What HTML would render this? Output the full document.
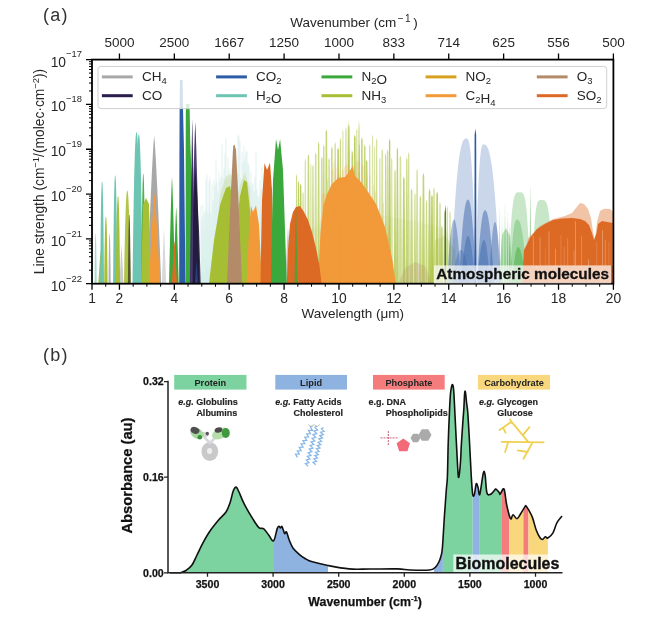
<!DOCTYPE html>
<html><head><meta charset="utf-8"><style>html,body{margin:0;padding:0;background:#fff;width:655px;height:620px;overflow:hidden;position:relative}</style></head>
<body>
<svg width="655" height="620" viewBox="0 0 655 620" style="position:absolute;left:0;top:0;filter:blur(0.4px)">
<rect width="655" height="620" fill="#ffffff"/>
<defs><clipPath id="ca"><rect x="92.0" y="59.6" width="521.4" height="224.1"/></clipPath></defs>
<g clip-path="url(#ca)">
<polygon points="200.50,283.70 200.70,206.28 201.00,203.28 201.30,206.28 201.50,283.70" fill="#6cc4b2" fill-opacity="0.3"/>
<polygon points="201.50,283.70 201.70,218.21 202.00,215.21 202.30,218.21 202.50,283.70" fill="#6cc4b2" fill-opacity="0.3"/>
<polygon points="202.50,283.70 202.70,206.21 203.00,203.21 203.30,206.21 203.50,283.70" fill="#6cc4b2" fill-opacity="0.3"/>
<polygon points="203.50,283.70 203.70,214.71 204.00,211.71 204.30,214.71 204.50,283.70" fill="#6cc4b2" fill-opacity="0.3"/>
<polygon points="204.50,283.70 204.70,212.70 205.00,209.70 205.30,212.70 205.50,283.70" fill="#6cc4b2" fill-opacity="0.3"/>
<polygon points="205.50,283.70 205.70,181.68 206.00,178.68 206.30,181.68 206.50,283.70" fill="#6cc4b2" fill-opacity="0.3"/>
<polygon points="206.50,283.70 206.70,176.15 207.00,173.15 207.30,176.15 207.50,283.70" fill="#6cc4b2" fill-opacity="0.3"/>
<polygon points="207.50,283.70 207.70,214.54 208.00,211.54 208.30,214.54 208.50,283.70" fill="#6cc4b2" fill-opacity="0.3"/>
<polygon points="208.50,283.70 208.70,182.90 209.00,179.90 209.30,182.90 209.50,283.70" fill="#6cc4b2" fill-opacity="0.3"/>
<polygon points="209.50,283.70 209.70,179.01 210.00,176.01 210.30,179.01 210.50,283.70" fill="#6cc4b2" fill-opacity="0.3"/>
<polygon points="210.50,283.70 210.70,214.53 211.00,211.53 211.30,214.53 211.50,283.70" fill="#6cc4b2" fill-opacity="0.3"/>
<polygon points="211.50,283.70 211.70,185.81 212.00,182.81 212.30,185.81 212.50,283.70" fill="#6cc4b2" fill-opacity="0.3"/>
<polygon points="212.50,283.70 212.70,201.76 213.00,198.76 213.30,201.76 213.50,283.70" fill="#6cc4b2" fill-opacity="0.3"/>
<polygon points="213.50,283.70 213.70,181.48 214.00,178.48 214.30,181.48 214.50,283.70" fill="#6cc4b2" fill-opacity="0.3"/>
<polygon points="214.50,283.70 214.70,187.44 215.00,184.44 215.30,187.44 215.50,283.70" fill="#6cc4b2" fill-opacity="0.3"/>
<polygon points="215.50,283.70 215.70,160.94 216.00,157.94 216.30,160.94 216.50,283.70" fill="#6cc4b2" fill-opacity="0.3"/>
<polygon points="216.50,283.70 216.70,183.16 217.00,180.16 217.30,183.16 217.50,283.70" fill="#6cc4b2" fill-opacity="0.3"/>
<polygon points="217.50,283.70 217.70,192.92 218.00,189.92 218.30,192.92 218.50,283.70" fill="#6cc4b2" fill-opacity="0.3"/>
<polygon points="218.50,283.70 218.70,173.87 219.00,170.87 219.30,173.87 219.50,283.70" fill="#6cc4b2" fill-opacity="0.3"/>
<polygon points="219.50,283.70 219.70,183.06 220.00,180.06 220.30,183.06 220.50,283.70" fill="#6cc4b2" fill-opacity="0.3"/>
<polygon points="220.50,283.70 220.70,177.95 221.00,174.95 221.30,177.95 221.50,283.70" fill="#6cc4b2" fill-opacity="0.3"/>
<polygon points="221.50,283.70 221.70,146.05 222.00,143.05 222.30,146.05 222.50,283.70" fill="#6cc4b2" fill-opacity="0.3"/>
<polygon points="222.50,283.70 222.70,179.33 223.00,176.33 223.30,179.33 223.50,283.70" fill="#6cc4b2" fill-opacity="0.3"/>
<polygon points="223.50,283.70 223.70,169.63 224.00,166.63 224.30,169.63 224.50,283.70" fill="#6cc4b2" fill-opacity="0.3"/>
<polygon points="224.50,283.70 224.70,153.89 225.00,150.89 225.30,153.89 225.50,283.70" fill="#6cc4b2" fill-opacity="0.3"/>
<polygon points="225.50,283.70 225.70,139.22 226.00,136.22 226.30,139.22 226.50,283.70" fill="#6cc4b2" fill-opacity="0.3"/>
<polygon points="226.50,283.70 226.70,179.88 227.00,176.88 227.30,179.88 227.50,283.70" fill="#6cc4b2" fill-opacity="0.3"/>
<polygon points="227.50,283.70 227.70,159.27 228.00,156.27 228.30,159.27 228.50,283.70" fill="#6cc4b2" fill-opacity="0.3"/>
<polygon points="228.50,283.70 228.70,170.69 229.00,167.69 229.30,170.69 229.50,283.70" fill="#6cc4b2" fill-opacity="0.3"/>
<polygon points="229.50,283.70 229.70,177.90 230.00,174.90 230.30,177.90 230.50,283.70" fill="#6cc4b2" fill-opacity="0.3"/>
<polygon points="230.50,283.70 230.70,168.97 231.00,165.97 231.30,168.97 231.50,283.70" fill="#6cc4b2" fill-opacity="0.3"/>
<polygon points="231.50,283.70 231.70,178.72 232.00,175.72 232.30,178.72 232.50,283.70" fill="#6cc4b2" fill-opacity="0.3"/>
<polygon points="232.50,283.70 232.70,151.91 233.00,148.91 233.30,151.91 233.50,283.70" fill="#6cc4b2" fill-opacity="0.3"/>
<polygon points="233.50,283.70 233.70,171.79 234.00,168.79 234.30,171.79 234.50,283.70" fill="#6cc4b2" fill-opacity="0.3"/>
<polygon points="234.50,283.70 234.70,153.65 235.00,150.65 235.30,153.65 235.50,283.70" fill="#6cc4b2" fill-opacity="0.3"/>
<polygon points="235.50,283.70 235.70,177.96 236.00,174.96 236.30,177.96 236.50,283.70" fill="#6cc4b2" fill-opacity="0.3"/>
<polygon points="236.50,283.70 236.70,174.99 237.00,171.99 237.30,174.99 237.50,283.70" fill="#6cc4b2" fill-opacity="0.3"/>
<polygon points="237.50,283.70 237.70,135.87 238.00,132.87 238.30,135.87 238.50,283.70" fill="#6cc4b2" fill-opacity="0.3"/>
<polygon points="238.50,283.70 238.70,137.84 239.00,134.84 239.30,137.84 239.50,283.70" fill="#6cc4b2" fill-opacity="0.3"/>
<polygon points="239.50,283.70 239.70,142.03 240.00,139.03 240.30,142.03 240.50,283.70" fill="#6cc4b2" fill-opacity="0.3"/>
<polygon points="240.50,283.70 240.70,179.69 241.00,176.69 241.30,179.69 241.50,283.70" fill="#6cc4b2" fill-opacity="0.3"/>
<polygon points="241.50,283.70 241.70,153.55 242.00,150.55 242.30,153.55 242.50,283.70" fill="#6cc4b2" fill-opacity="0.3"/>
<polygon points="242.50,283.70 242.70,163.49 243.00,160.49 243.30,163.49 243.50,283.70" fill="#6cc4b2" fill-opacity="0.3"/>
<polygon points="243.50,283.70 243.70,147.72 244.00,144.72 244.30,147.72 244.50,283.70" fill="#6cc4b2" fill-opacity="0.3"/>
<polygon points="244.50,283.70 244.70,158.63 245.00,155.63 245.30,158.63 245.50,283.70" fill="#6cc4b2" fill-opacity="0.3"/>
<polygon points="245.50,283.70 245.70,153.26 246.00,150.26 246.30,153.26 246.50,283.70" fill="#6cc4b2" fill-opacity="0.3"/>
<polygon points="246.50,283.70 246.70,152.30 247.00,149.30 247.30,152.30 247.50,283.70" fill="#6cc4b2" fill-opacity="0.3"/>
<polygon points="247.50,283.70 247.70,164.88 248.00,161.88 248.30,164.88 248.50,283.70" fill="#6cc4b2" fill-opacity="0.3"/>
<polygon points="248.50,283.70 248.70,165.81 249.00,162.81 249.30,165.81 249.50,283.70" fill="#6cc4b2" fill-opacity="0.3"/>
<polygon points="249.50,283.70 249.70,182.88 250.00,179.88 250.30,182.88 250.50,283.70" fill="#6cc4b2" fill-opacity="0.3"/>
<polygon points="250.50,283.70 250.70,172.92 251.00,169.92 251.30,172.92 251.50,283.70" fill="#6cc4b2" fill-opacity="0.3"/>
<polygon points="251.50,283.70 251.70,186.52 252.00,183.52 252.30,186.52 252.50,283.70" fill="#6cc4b2" fill-opacity="0.3"/>
<polygon points="252.50,283.70 252.70,184.24 253.00,181.24 253.30,184.24 253.50,283.70" fill="#6cc4b2" fill-opacity="0.3"/>
<polygon points="253.50,283.70 253.70,192.40 254.00,189.40 254.30,192.40 254.50,283.70" fill="#6cc4b2" fill-opacity="0.3"/>
<polygon points="254.50,283.70 254.70,177.94 255.00,174.94 255.30,177.94 255.50,283.70" fill="#6cc4b2" fill-opacity="0.3"/>
<polygon points="255.50,283.70 255.70,154.15 256.00,151.15 256.30,154.15 256.50,283.70" fill="#6cc4b2" fill-opacity="0.3"/>
<polygon points="256.50,283.70 256.70,190.74 257.00,187.74 257.30,190.74 257.50,283.70" fill="#6cc4b2" fill-opacity="0.3"/>
<polygon points="257.50,283.70 257.70,197.75 258.00,194.75 258.30,197.75 258.50,283.70" fill="#6cc4b2" fill-opacity="0.3"/>
<polygon points="258.50,283.70 258.70,196.65 259.00,193.65 259.30,196.65 259.50,283.70" fill="#6cc4b2" fill-opacity="0.3"/>
<polygon points="259.50,283.70 259.70,181.86 260.00,178.86 260.30,181.86 260.50,283.70" fill="#6cc4b2" fill-opacity="0.3"/>
<polygon points="260.50,283.70 260.70,191.18 261.00,188.18 261.30,191.18 261.50,283.70" fill="#6cc4b2" fill-opacity="0.3"/>
<polygon points="261.50,283.70 261.70,168.22 262.00,165.22 262.30,168.22 262.50,283.70" fill="#6cc4b2" fill-opacity="0.3"/>
<polygon points="262.50,283.70 262.70,201.52 263.00,198.52 263.30,201.52 263.50,283.70" fill="#6cc4b2" fill-opacity="0.3"/>
<polygon points="263.50,283.70 263.70,190.97 264.00,187.97 264.30,190.97 264.50,283.70" fill="#6cc4b2" fill-opacity="0.3"/>
<polygon points="264.50,283.70 264.70,179.00 265.00,176.00 265.30,179.00 265.50,283.70" fill="#6cc4b2" fill-opacity="0.3"/>
<polygon points="265.50,283.70 265.70,170.47 266.00,167.47 266.30,170.47 266.50,283.70" fill="#6cc4b2" fill-opacity="0.3"/>
<polygon points="266.50,283.70 266.70,212.63 267.00,209.63 267.30,212.63 267.50,283.70" fill="#6cc4b2" fill-opacity="0.3"/>
<polygon points="267.50,283.70 267.70,222.16 268.00,219.16 268.30,222.16 268.50,283.70" fill="#6cc4b2" fill-opacity="0.3"/>
<polygon points="268.50,283.70 268.70,179.92 269.00,176.92 269.30,179.92 269.50,283.70" fill="#6cc4b2" fill-opacity="0.3"/>
<polygon points="269.50,283.70 269.70,218.44 270.00,215.44 270.30,218.44 270.50,283.70" fill="#6cc4b2" fill-opacity="0.3"/>
<polygon points="290.61,283.70 291.30,229.33 292.00,226.33 292.70,229.33 293.39,283.70" fill="#a6bf34" fill-opacity="0.46033966956980077"/>
<polygon points="292.88,283.70 293.40,218.75 293.92,215.75 294.43,218.75 294.95,283.70" fill="#a6bf34" fill-opacity="0.5462755667650343"/>
<polygon points="295.49,283.70 296.01,176.75 296.53,173.75 297.05,176.75 297.57,283.70" fill="#a6bf34" fill-opacity="0.5734582734649544"/>
<polygon points="297.40,283.70 297.94,183.18 298.47,180.18 299.01,183.18 299.55,283.70" fill="#a6bf34" fill-opacity="0.7307408498688153"/>
<polygon points="299.28,283.70 299.96,186.36 300.63,183.36 301.30,186.36 301.98,283.70" fill="#a6bf34" fill-opacity="0.7790835769828023"/>
<polygon points="301.55,283.70 302.31,194.14 303.06,191.14 303.82,194.14 304.58,283.70" fill="#a6bf34" fill-opacity="0.41863307224710256"/>
<polygon points="304.14,283.70 304.74,160.91 305.33,157.91 305.92,160.91 306.51,283.70" fill="#a6bf34" fill-opacity="0.44711689523134734"/>
<polygon points="307.05,283.70 307.74,156.67 308.43,153.67 309.13,156.67 309.82,283.70" fill="#a6bf34" fill-opacity="0.6326400654649865"/>
<polygon points="309.79,283.70 310.31,165.93 310.83,162.93 311.35,165.93 311.87,283.70" fill="#a6bf34" fill-opacity="0.4251155899893293"/>
<polygon points="311.77,283.70 312.37,167.37 312.96,164.37 313.55,167.37 314.15,283.70" fill="#a6bf34" fill-opacity="0.5710369222677611"/>
<polygon points="314.22,283.70 314.96,155.32 315.70,152.32 316.43,155.32 317.17,283.70" fill="#a6bf34" fill-opacity="0.519906798745473"/>
<polygon points="317.30,283.70 317.96,144.17 318.61,141.17 319.27,144.17 319.93,283.70" fill="#a6bf34" fill-opacity="0.6297694841034684"/>
<polygon points="320.23,283.70 321.02,159.24 321.81,156.24 322.61,159.24 323.40,283.70" fill="#a6bf34" fill-opacity="0.5151751059560746"/>
<polygon points="322.71,283.70 323.26,147.15 323.80,144.15 324.35,147.15 324.89,283.70" fill="#a6bf34" fill-opacity="0.7028563718260998"/>
<polygon points="324.93,283.70 325.66,132.34 326.39,129.34 327.12,132.34 327.84,283.70" fill="#a6bf34" fill-opacity="0.6672863426137581"/>
<polygon points="327.69,283.70 328.39,160.37 329.10,157.37 329.81,160.37 330.52,283.70" fill="#a6bf34" fill-opacity="0.5254990051392388"/>
<polygon points="330.35,283.70 331.10,149.33 331.85,146.33 332.61,149.33 333.36,283.70" fill="#a6bf34" fill-opacity="0.5824821325205652"/>
<polygon points="334.13,283.70 334.65,144.80 335.17,141.80 335.68,144.80 336.20,283.70" fill="#a6bf34" fill-opacity="0.6656608821898697"/>
<polygon points="336.59,283.70 337.34,150.13 338.09,147.13 338.83,150.13 339.58,283.70" fill="#a6bf34" fill-opacity="0.7972383757866537"/>
<polygon points="339.33,283.70 339.84,140.42 340.34,137.42 340.85,140.42 341.36,283.70" fill="#a6bf34" fill-opacity="0.6674610863536753"/>
<polygon points="341.85,283.70 342.36,132.16 342.88,129.16 343.40,132.16 343.92,283.70" fill="#a6bf34" fill-opacity="0.4468383177926928"/>
<polygon points="344.68,283.70 345.29,130.05 345.91,127.05 346.53,130.05 347.15,283.70" fill="#a6bf34" fill-opacity="0.49904593347876575"/>
<polygon points="347.78,283.70 348.44,127.82 349.11,124.82 349.77,127.82 350.43,283.70" fill="#a6bf34" fill-opacity="0.5796749603797324"/>
<polygon points="351.15,283.70 351.74,153.67 352.32,150.67 352.90,153.67 353.49,283.70" fill="#a6bf34" fill-opacity="0.7455937878794061"/>
<polygon points="353.21,283.70 354.00,137.56 354.78,134.56 355.57,137.56 356.36,283.70" fill="#a6bf34" fill-opacity="0.7536771308792869"/>
<polygon points="355.68,283.70 356.25,131.17 356.82,128.17 357.39,131.17 357.96,283.70" fill="#a6bf34" fill-opacity="0.4927827467278143"/>
<polygon points="358.40,283.70 358.90,145.92 359.40,142.92 359.90,145.92 360.40,283.70" fill="#a6bf34" fill-opacity="0.5050986477194153"/>
<polygon points="360.30,283.70 361.09,140.08 361.87,137.08 362.66,140.08 363.44,283.70" fill="#a6bf34" fill-opacity="0.6265364894825568"/>
<polygon points="363.37,283.70 364.07,147.37 364.78,144.37 365.48,147.37 366.18,283.70" fill="#a6bf34" fill-opacity="0.6470370997636511"/>
<polygon points="365.14,283.70 365.90,162.23 366.66,159.23 367.42,162.23 368.19,283.70" fill="#a6bf34" fill-opacity="0.7119877962824291"/>
<polygon points="368.68,283.70 369.21,146.79 369.74,143.79 370.27,146.79 370.80,283.70" fill="#a6bf34" fill-opacity="0.5595915329281093"/>
<polygon points="371.43,283.70 371.99,137.34 372.55,134.34 373.12,137.34 373.68,283.70" fill="#a6bf34" fill-opacity="0.42693904633720997"/>
<polygon points="373.61,283.70 374.11,148.61 374.61,145.61 375.11,148.61 375.61,283.70" fill="#a6bf34" fill-opacity="0.4210302415561068"/>
<polygon points="375.64,283.70 376.15,140.97 376.66,137.97 377.16,140.97 377.67,283.70" fill="#a6bf34" fill-opacity="0.5454439688138284"/>
<polygon points="378.70,283.70 379.28,159.71 379.85,156.71 380.43,159.71 381.01,283.70" fill="#a6bf34" fill-opacity="0.4594201941323566"/>
<polygon points="380.70,283.70 381.46,151.55 382.21,148.55 382.96,151.55 383.72,283.70" fill="#a6bf34" fill-opacity="0.44913689230487797"/>
<polygon points="384.55,283.70 385.07,155.96 385.60,152.96 386.12,155.96 386.65,283.70" fill="#a6bf34" fill-opacity="0.5935338625665079"/>
<polygon points="386.07,283.70 386.81,152.13 387.56,149.13 388.31,152.13 389.06,283.70" fill="#a6bf34" fill-opacity="0.5059027566868721"/>
<polygon points="388.30,283.70 388.96,141.46 389.62,138.46 390.28,141.46 390.94,283.70" fill="#a6bf34" fill-opacity="0.7803942291498809"/>
<polygon points="390.34,283.70 391.00,160.17 391.66,157.17 392.31,160.17 392.97,283.70" fill="#a6bf34" fill-opacity="0.41081699656886744"/>
<polygon points="393.86,283.70 394.44,172.23 395.02,169.23 395.60,172.23 396.18,283.70" fill="#a6bf34" fill-opacity="0.6784787143631208"/>
<polygon points="396.09,283.70 396.75,149.88 397.41,146.88 398.07,149.88 398.73,283.70" fill="#a6bf34" fill-opacity="0.7087751633608126"/>
<polygon points="398.97,283.70 399.71,158.15 400.45,155.15 401.20,158.15 401.94,283.70" fill="#a6bf34" fill-opacity="0.48921666924127405"/>
<polygon points="402.34,283.70 403.08,179.31 403.83,176.31 404.58,179.31 405.32,283.70" fill="#a6bf34" fill-opacity="0.722431433914267"/>
<polygon points="405.60,283.70 406.21,159.93 406.81,156.93 407.42,159.93 408.03,283.70" fill="#a6bf34" fill-opacity="0.6070554896974023"/>
<polygon points="407.50,283.70 408.08,154.83 408.66,151.83 409.24,154.83 409.82,283.70" fill="#a6bf34" fill-opacity="0.5117674156196119"/>
<polygon points="410.01,283.70 410.79,191.07 411.57,188.07 412.35,191.07 413.13,283.70" fill="#a6bf34" fill-opacity="0.5788910711066895"/>
<polygon points="413.82,283.70 414.38,195.36 414.95,192.36 415.52,195.36 416.08,283.70" fill="#a6bf34" fill-opacity="0.5458543541447465"/>
<polygon points="415.74,283.70 416.42,171.60 417.11,168.60 417.80,171.60 418.49,283.70" fill="#a6bf34" fill-opacity="0.48174934531048924"/>
<polygon points="418.96,283.70 419.66,198.30 420.35,195.30 421.05,198.30 421.74,283.70" fill="#a6bf34" fill-opacity="0.5917893705046153"/>
<polygon points="421.89,283.70 422.66,175.71 423.43,172.71 424.20,175.71 424.98,283.70" fill="#a6bf34" fill-opacity="0.6642342600819577"/>
<polygon points="425.38,283.70 425.93,202.70 426.48,199.70 427.04,202.70 427.59,283.70" fill="#a6bf34" fill-opacity="0.5912130978376001"/>
<polygon points="427.96,283.70 428.75,191.80 429.55,188.80 430.34,191.80 431.13,283.70" fill="#a6bf34" fill-opacity="0.7203294275586765"/>
<polygon points="430.54,283.70 431.26,197.17 431.98,194.17 432.70,197.17 433.41,283.70" fill="#a6bf34" fill-opacity="0.7787188025859573"/>
<polygon points="432.51,283.70 433.28,190.08 434.05,187.08 434.82,190.08 435.59,283.70" fill="#a6bf34" fill-opacity="0.46046028015259594"/>
<polygon points="435.55,283.70 436.35,194.35 437.14,191.35 437.94,194.35 438.73,283.70" fill="#a6bf34" fill-opacity="0.7306041914101549"/>
<polygon points="438.92,283.70 439.45,204.59 439.99,201.59 440.53,204.59 441.07,283.70" fill="#a6bf34" fill-opacity="0.6194640175947117"/>
<polygon points="440.50,283.70 441.16,228.28 441.82,225.28 442.47,228.28 443.13,283.70" fill="#a6bf34" fill-opacity="0.6598698678695323"/>
<polygon points="443.61,283.70 444.36,213.05 445.11,210.05 445.86,213.05 446.61,283.70" fill="#a6bf34" fill-opacity="0.7486971711957617"/>
<polygon points="446.10,283.70 446.68,209.00 447.25,206.00 447.82,209.00 448.39,283.70" fill="#a6bf34" fill-opacity="0.5171866610680876"/>
<polygon points="448.91,283.70 449.45,213.48 449.99,210.48 450.53,213.48 451.06,283.70" fill="#a6bf34" fill-opacity="0.5676050211018175"/>
<polygon points="346.90,283.70 347.80,128.00 348.20,120.00 348.60,128.00 349.50,283.70" fill="#a6bf34" fill-opacity="0.8"/>
<polygon points="357.70,283.70 358.60,128.00 359.00,120.00 359.40,128.00 360.30,283.70" fill="#a6bf34" fill-opacity="0.8"/>
<polygon points="296.00,283.70 305.00,235.00 330.00,215.00 380.00,215.00 420.00,222.00 445.00,230.00 455.00,240.00 458.00,283.70" fill="#a6bf34" fill-opacity="0.08"/>
<polygon points="430.00,283.70 435.00,240.00 445.00,235.00 455.00,250.00 458.00,283.70" fill="#a6bf34" fill-opacity="0.2"/>
<polygon points="398.00,283.70 405.00,268.00 415.00,262.00 425.00,266.00 432.00,283.70" fill="#b38b68" fill-opacity="0.25"/>
<polygon points="94.50,283.70 94.59,273.89 94.68,265.32 94.77,257.95 94.87,251.72 94.96,246.55 95.05,242.37 95.14,239.13 95.23,236.72 95.32,235.07 95.42,234.07 95.51,233.60 95.60,233.50 95.69,233.60 95.78,234.07 95.88,235.07 95.97,236.72 96.06,239.13 96.15,242.37 96.24,246.55 96.33,251.72 96.42,257.95 96.52,265.32 96.61,273.89 96.70,283.70" fill="#6cc4b2" fill-opacity="0.6"/>
<polygon points="98.30,283.70 98.48,280.89 98.67,278.08 98.85,275.27 99.03,272.47 99.22,269.66 99.40,266.85 99.58,264.04 99.77,261.23 99.95,258.43 100.13,255.62 100.32,252.81 100.50,250.00 100.68,252.81 100.87,255.62 101.05,258.43 101.23,261.23 101.42,264.04 101.60,266.85 101.78,269.66 101.97,272.47 102.15,275.27 102.33,278.08 102.52,280.89 102.70,283.70" fill="#a6bf34" fill-opacity="1"/>
<polygon points="100.20,283.70 100.36,263.84 100.52,246.51 100.67,231.59 100.83,218.97 100.99,208.50 101.15,200.06 101.31,193.49 101.47,188.62 101.62,185.27 101.78,183.25 101.94,182.30 102.10,182.10 102.26,182.30 102.42,183.25 102.57,185.27 102.73,188.62 102.89,193.49 103.05,200.06 103.21,208.50 103.37,218.97 103.52,231.59 103.68,246.51 103.84,263.84 104.00,283.70" fill="#6cc4b2" fill-opacity="1"/>
<polygon points="104.20,283.70 104.34,270.60 104.48,259.17 104.62,249.34 104.77,241.01 104.91,234.11 105.05,228.54 105.19,224.21 105.33,221.00 105.48,218.79 105.62,217.46 105.76,216.83 105.90,216.70 106.04,216.83 106.18,217.46 106.33,218.79 106.47,221.00 106.61,224.21 106.75,228.54 106.89,234.11 107.03,241.01 107.18,249.34 107.32,259.17 107.46,270.60 107.60,283.70" fill="#a6bf34" fill-opacity="1"/>
<polygon points="108.50,283.70 108.59,273.89 108.68,265.32 108.77,257.95 108.87,251.72 108.96,246.55 109.05,242.37 109.14,239.13 109.23,236.72 109.32,235.07 109.42,234.07 109.51,233.60 109.60,233.50 109.69,233.60 109.78,234.07 109.88,235.07 109.97,236.72 110.06,239.13 110.15,242.37 110.24,246.55 110.33,251.72 110.42,257.95 110.52,265.32 110.61,273.89 110.70,283.70" fill="#a8a8a8" fill-opacity="0.9"/>
<polygon points="113.10,283.70 113.28,262.57 113.45,244.13 113.62,228.26 113.80,214.83 113.98,203.69 114.15,194.71 114.33,187.71 114.50,182.53 114.67,178.98 114.85,176.83 115.03,175.82 115.20,175.60 115.38,175.82 115.55,176.83 115.73,178.98 115.90,182.53 116.08,187.71 116.25,194.71 116.42,203.69 116.60,214.83 116.78,228.26 116.95,244.13 117.12,262.57 117.30,283.70" fill="#6cc4b2" fill-opacity="1"/>
<polygon points="115.90,283.70 116.08,266.59 116.25,251.67 116.42,238.82 116.60,227.95 116.78,218.94 116.95,211.67 117.12,206.01 117.30,201.81 117.47,198.93 117.65,197.19 117.83,196.38 118.00,196.20 118.17,196.38 118.35,197.19 118.53,198.93 118.70,201.81 118.88,206.01 119.05,211.67 119.22,218.94 119.40,227.95 119.58,238.82 119.75,251.67 119.92,266.59 120.10,283.70" fill="#a6bf34" fill-opacity="1"/>
<polygon points="119.50,283.70 119.67,280.39 119.83,277.08 120.00,273.77 120.17,270.47 120.33,267.16 120.50,263.85 120.67,260.54 120.83,257.23 121.00,253.93 121.17,250.62 121.33,247.31 121.50,244.00 121.67,247.31 121.83,250.62 122.00,253.93 122.17,257.23 122.33,260.54 122.50,263.85 122.67,267.16 122.83,270.47 123.00,273.77 123.17,277.08 123.33,280.39 123.50,283.70" fill="#a8a8a8" fill-opacity="0.6"/>
<polygon points="124.00,283.70 124.27,267.48 124.55,252.94 124.83,240.04 125.10,228.75 125.38,219.04 125.65,210.86 125.92,204.17 126.20,198.90 126.47,195.01 126.75,192.41 127.02,190.99 127.30,190.60 127.58,190.99 127.85,192.41 128.12,195.01 128.40,198.90 128.68,204.17 128.95,210.86 129.22,219.04 129.50,228.75 129.78,240.04 130.05,252.94 130.32,267.48 130.60,283.70" fill="#a6bf34" fill-opacity="0.9"/>
<polygon points="127.90,283.70 128.02,271.71 128.13,260.97 128.25,251.44 128.37,243.10 128.48,235.92 128.60,229.87 128.72,224.93 128.83,221.04 128.95,218.16 129.07,216.24 129.18,215.19 129.30,214.90 129.42,215.19 129.53,216.24 129.65,218.16 129.77,221.04 129.88,224.93 130.00,229.87 130.12,235.92 130.23,243.10 130.35,251.44 130.47,260.97 130.58,271.71 130.70,283.70" fill="#4a4a28" fill-opacity="0.9"/>
<polygon points="132.50,283.70 132.83,257.27 133.17,233.58 133.50,212.56 133.83,194.17 134.17,178.34 134.50,165.02 134.83,154.11 135.17,145.53 135.50,139.19 135.83,134.94 136.17,132.64 136.50,132.00 136.83,132.64 137.17,134.94 137.50,139.19 137.83,145.53 138.17,154.11 138.50,165.02 138.83,178.34 139.17,194.17 139.50,212.56 139.83,233.58 140.17,257.27 140.50,283.70" fill="#6cc4b2" fill-opacity="1"/>
<polygon points="135.00,283.70 135.32,257.62 135.63,234.24 135.95,213.50 136.27,195.35 136.58,179.73 136.90,166.58 137.22,155.82 137.53,147.35 137.85,141.09 138.17,136.91 138.48,134.63 138.80,134.00 139.12,134.63 139.43,136.91 139.75,141.09 140.07,147.35 140.38,155.82 140.70,166.58 141.02,179.73 141.33,195.35 141.65,213.50 141.97,234.24 142.28,257.62 142.60,283.70" fill="#6cc4b2" fill-opacity="1"/>
<polygon points="141.30,283.70 141.47,264.54 141.63,247.35 141.80,232.12 141.97,218.78 142.13,207.31 142.30,197.64 142.47,189.73 142.63,183.51 142.80,178.91 142.97,175.84 143.13,174.16 143.30,173.70 143.47,174.16 143.63,175.84 143.80,178.91 143.97,183.51 144.13,189.73 144.30,197.64 144.47,207.31 144.63,218.78 144.80,232.12 144.97,247.35 145.13,264.54 145.30,283.70" fill="#3aa83a" fill-opacity="0.9"/>
<polygon points="147.20,283.70 147.78,268.45 148.37,253.54 148.95,239.00 149.53,224.86 150.12,211.15 150.70,197.93 151.28,185.24 151.87,173.19 152.45,161.86 153.03,151.46 153.62,142.33 154.20,135.70 154.78,142.33 155.37,151.46 155.95,161.86 156.53,173.19 157.12,185.24 157.70,197.93 158.28,211.15 158.87,224.86 159.45,239.00 160.03,253.54 160.62,268.45 161.20,283.70" fill="#a8a8a8" fill-opacity="1"/>
<polygon points="161.80,283.70 161.98,278.97 162.17,274.25 162.35,269.52 162.53,264.80 162.72,260.07 162.90,255.35 163.08,250.62 163.27,245.90 163.45,241.18 163.63,236.45 163.82,231.72 164.00,227.00 164.18,231.72 164.37,236.45 164.55,241.18 164.73,245.90 164.92,250.62 165.10,255.35 165.28,260.07 165.47,264.80 165.65,269.52 165.83,274.25 166.02,278.97 166.20,283.70" fill="#a8a8a8" fill-opacity="0.45"/>
<polygon points="285.00,283.70 285.25,277.96 285.50,272.35 285.75,266.88 286.00,261.55 286.25,256.40 286.50,251.42 286.75,246.65 287.00,242.11 287.25,237.85 287.50,233.93 287.75,230.49 288.00,228.00 288.25,230.49 288.50,233.93 288.75,237.85 289.00,242.11 289.25,246.65 289.50,251.42 289.75,256.40 290.00,261.55 290.25,266.88 290.50,272.35 290.75,277.96 291.00,283.70" fill="#a8a8a8" fill-opacity="0.6"/>
<polygon points="141.00,283.70 143.00,205.00 146.00,198.00 149.00,204.00 151.00,283.70" fill="#a6bf34" fill-opacity="1"/>
<polygon points="209.00,283.70 214.00,240.00 220.00,205.00 226.00,188.00 230.00,186.00 233.00,200.00 236.00,230.00 240.00,196.00 244.00,180.00 247.00,182.00 250.00,210.00 252.00,283.70" fill="#a6bf34" fill-opacity="1"/>
<polygon points="212.00,283.70 220.00,195.00 226.00,176.00 231.00,174.00 235.00,210.00 240.00,185.00 245.00,172.00 250.00,190.00 253.00,283.70" fill="#a6bf34" fill-opacity="0.2"/>
<polygon points="149.00,283.70 149.46,274.35 149.92,265.22 150.38,256.30 150.83,247.64 151.29,239.24 151.75,231.13 152.21,223.36 152.67,215.97 153.12,209.03 153.58,202.66 154.04,197.06 154.50,193.00 154.96,197.06 155.42,202.66 155.88,209.03 156.33,215.97 156.79,223.36 157.25,231.13 157.71,239.24 158.17,247.64 158.62,256.30 159.08,265.22 159.54,274.35 160.00,283.70" fill="#f29a3a" fill-opacity="1"/>
<polygon points="169.00,283.70 169.25,272.66 169.50,261.87 169.75,251.35 170.00,241.12 170.25,231.20 170.50,221.63 170.75,212.45 171.00,203.73 171.25,195.53 171.50,188.01 171.75,181.40 172.00,176.60 172.25,181.40 172.50,188.01 172.75,195.53 173.00,203.73 173.25,212.45 173.50,221.63 173.75,231.20 174.00,241.12 174.25,251.35 174.50,261.87 174.75,272.66 175.00,283.70" fill="#3aa83a" fill-opacity="1"/>
<polygon points="173.70,283.70 173.91,275.77 174.12,268.03 174.32,260.47 174.53,253.12 174.74,246.00 174.95,239.13 175.16,232.54 175.37,226.28 175.57,220.39 175.78,214.99 175.99,210.24 176.20,206.80 176.41,210.24 176.62,214.99 176.82,220.39 177.03,226.28 177.24,232.54 177.45,239.13 177.66,246.00 177.87,253.12 178.07,260.47 178.28,268.03 178.49,275.77 178.70,283.70" fill="#3aa83a" fill-opacity="1"/>
<polygon points="171.90,283.70 172.11,279.26 172.32,274.92 172.53,270.68 172.73,266.56 172.94,262.57 173.15,258.72 173.36,255.03 173.57,251.52 173.78,248.22 173.98,245.19 174.19,242.53 174.40,240.60 174.61,242.53 174.82,245.19 175.03,248.22 175.23,251.52 175.44,255.03 175.65,258.72 175.86,262.57 176.07,266.56 176.28,270.68 176.48,274.92 176.69,279.26 176.90,283.70" fill="#dd6a24" fill-opacity="1"/>
<polygon points="179.20,283.70 179.40,160.00 179.60,108.00 180.00,80.00 182.60,80.00 183.00,108.00 184.00,150.00 185.50,283.70" fill="#2d5ca6" fill-opacity="1"/>
<polygon points="185.60,283.70 185.70,150.00 185.80,112.00 186.20,104.00 189.30,104.00 189.70,112.00 190.20,140.00 191.50,175.00 194.50,283.70" fill="#3aa83a" fill-opacity="1"/>
<polygon points="189.90,283.70 190.10,266.76 190.30,250.20 190.50,234.04 190.70,218.33 190.90,203.11 191.10,188.42 191.30,174.33 191.50,160.94 191.70,148.36 191.90,136.81 192.10,126.66 192.30,119.30 192.50,126.66 192.70,136.81 192.90,148.36 193.10,160.94 193.30,174.33 193.50,188.42 193.70,203.11 193.90,218.33 194.10,234.04 194.30,250.20 194.50,266.76 194.70,283.70" fill="#3f3066" fill-opacity="1"/>
<polygon points="191.10,283.70 191.45,267.00 191.80,250.68 192.15,234.77 192.50,219.29 192.85,204.29 193.20,189.81 193.55,175.93 193.90,162.73 194.25,150.34 194.60,138.95 194.95,128.95 195.30,121.70 195.65,128.95 196.00,138.95 196.35,150.34 196.70,162.73 197.05,175.93 197.40,189.81 197.75,204.29 198.10,219.29 198.45,234.77 198.80,250.68 199.15,267.00 199.50,283.70" fill="#4d3f74" fill-opacity="1"/>
<polygon points="192.50,283.70 193.20,210.00 195.00,165.00 197.00,190.00 199.00,230.00 200.70,283.70" fill="#1c1636" fill-opacity="0.85"/>
<polygon points="195.00,283.70 196.50,260.00 198.00,283.70" fill="#2d5ca6" fill-opacity="0.6"/>
<polygon points="227.00,283.70 231.00,190.00 233.20,146.00 234.50,144.40 236.00,150.00 238.00,190.00 242.00,283.70" fill="#b38b68" fill-opacity="1"/>
<polygon points="246.60,283.70 249.00,230.00 251.00,206.00 253.00,212.00 256.00,205.60 259.00,225.00 262.00,283.70" fill="#f29a3a" fill-opacity="1"/>
<polygon points="260.40,283.70 262.00,200.00 264.50,163.00 267.00,170.00 270.00,162.70 272.00,190.00 274.20,283.70" fill="#dd6a24" fill-opacity="1"/>
<polygon points="270.80,283.70 273.00,180.00 276.00,139.00 278.00,150.00 280.10,139.00 283.00,170.00 286.80,283.70" fill="#3aa83a" fill-opacity="1"/>
<polygon points="318.00,283.70 320.50,232.00 323.50,205.00 327.00,194.00 332.00,184.00 338.00,178.00 345.00,177.00 349.00,172.00 352.60,166.00 355.00,176.00 361.00,182.00 368.00,192.00 376.00,204.00 384.60,226.00 388.00,240.00 391.80,257.00 396.00,283.70" fill="#f29a3a" fill-opacity="1"/>
<polygon points="320.45,283.70 320.55,220.55 321.00,217.55 321.45,220.55 321.55,283.70" fill="#f29a3a" fill-opacity="0.3"/>
<polygon points="322.12,283.70 322.22,195.12 322.67,192.12 323.12,195.12 323.22,283.70" fill="#f29a3a" fill-opacity="0.3"/>
<polygon points="323.68,283.70 323.78,194.53 324.23,191.53 324.68,194.53 324.78,283.70" fill="#f29a3a" fill-opacity="0.3"/>
<polygon points="325.39,283.70 325.49,196.28 325.94,193.28 326.39,196.28 326.49,283.70" fill="#f29a3a" fill-opacity="0.3"/>
<polygon points="327.00,283.70 327.10,182.04 327.55,179.04 328.00,182.04 328.10,283.70" fill="#f29a3a" fill-opacity="0.3"/>
<polygon points="328.95,283.70 329.05,189.93 329.50,186.93 329.95,189.93 330.05,283.70" fill="#f29a3a" fill-opacity="0.3"/>
<polygon points="330.32,283.70 330.42,187.27 330.87,184.27 331.32,187.27 331.42,283.70" fill="#f29a3a" fill-opacity="0.3"/>
<polygon points="332.29,283.70 332.39,170.91 332.84,167.91 333.29,170.91 333.39,283.70" fill="#f29a3a" fill-opacity="0.3"/>
<polygon points="333.34,283.70 333.44,163.50 333.89,160.50 334.34,163.50 334.44,283.70" fill="#f29a3a" fill-opacity="0.3"/>
<polygon points="335.49,283.70 335.59,168.57 336.04,165.57 336.49,168.57 336.59,283.70" fill="#f29a3a" fill-opacity="0.3"/>
<polygon points="337.23,283.70 337.33,177.75 337.78,174.75 338.23,177.75 338.33,283.70" fill="#f29a3a" fill-opacity="0.3"/>
<polygon points="338.25,283.70 338.35,169.26 338.80,166.26 339.25,169.26 339.35,283.70" fill="#f29a3a" fill-opacity="0.3"/>
<polygon points="339.32,283.70 339.42,176.55 339.87,173.55 340.32,176.55 340.42,283.70" fill="#f29a3a" fill-opacity="0.3"/>
<polygon points="340.61,283.70 340.71,179.89 341.16,176.89 341.61,179.89 341.71,283.70" fill="#f29a3a" fill-opacity="0.3"/>
<polygon points="342.17,283.70 342.27,170.63 342.72,167.63 343.17,170.63 343.27,283.70" fill="#f29a3a" fill-opacity="0.3"/>
<polygon points="344.18,283.70 344.28,168.62 344.73,165.62 345.18,168.62 345.28,283.70" fill="#f29a3a" fill-opacity="0.3"/>
<polygon points="345.95,283.70 346.05,167.13 346.50,164.13 346.95,167.13 347.05,283.70" fill="#f29a3a" fill-opacity="0.3"/>
<polygon points="347.74,283.70 347.84,165.82 348.29,162.82 348.74,165.82 348.84,283.70" fill="#f29a3a" fill-opacity="0.3"/>
<polygon points="349.08,283.70 349.18,152.00 349.63,149.00 350.08,152.00 350.18,283.70" fill="#f29a3a" fill-opacity="0.3"/>
<polygon points="351.27,283.70 351.37,151.81 351.82,148.81 352.27,151.81 352.37,283.70" fill="#f29a3a" fill-opacity="0.3"/>
<polygon points="353.12,283.70 353.22,166.53 353.67,163.53 354.12,166.53 354.22,283.70" fill="#f29a3a" fill-opacity="0.3"/>
<polygon points="354.40,283.70 354.50,172.42 354.95,169.42 355.40,172.42 355.50,283.70" fill="#f29a3a" fill-opacity="0.3"/>
<polygon points="355.48,283.70 355.58,163.17 356.03,160.17 356.48,163.17 356.58,283.70" fill="#f29a3a" fill-opacity="0.3"/>
<polygon points="356.96,283.70 357.06,162.89 357.51,159.89 357.96,162.89 358.06,283.70" fill="#f29a3a" fill-opacity="0.3"/>
<polygon points="358.43,283.70 358.53,161.90 358.98,158.90 359.43,161.90 359.53,283.70" fill="#f29a3a" fill-opacity="0.3"/>
<polygon points="360.44,283.70 360.54,184.98 360.99,181.98 361.44,184.98 361.54,283.70" fill="#f29a3a" fill-opacity="0.3"/>
<polygon points="361.69,283.70 361.79,166.75 362.24,163.75 362.69,166.75 362.79,283.70" fill="#f29a3a" fill-opacity="0.3"/>
<polygon points="363.26,283.70 363.36,167.44 363.81,164.44 364.26,167.44 364.36,283.70" fill="#f29a3a" fill-opacity="0.3"/>
<polygon points="364.74,283.70 364.84,189.52 365.29,186.52 365.74,189.52 365.84,283.70" fill="#f29a3a" fill-opacity="0.3"/>
<polygon points="366.49,283.70 366.59,176.50 367.04,173.50 367.49,176.50 367.59,283.70" fill="#f29a3a" fill-opacity="0.3"/>
<polygon points="367.81,283.70 367.91,193.63 368.36,190.63 368.81,193.63 368.91,283.70" fill="#f29a3a" fill-opacity="0.3"/>
<polygon points="369.21,283.70 369.31,176.44 369.76,173.44 370.21,176.44 370.31,283.70" fill="#f29a3a" fill-opacity="0.3"/>
<polygon points="371.12,283.70 371.22,197.91 371.67,194.91 372.12,197.91 372.22,283.70" fill="#f29a3a" fill-opacity="0.3"/>
<polygon points="372.42,283.70 372.52,200.23 372.97,197.23 373.42,200.23 373.52,283.70" fill="#f29a3a" fill-opacity="0.3"/>
<polygon points="373.49,283.70 373.59,186.53 374.04,183.53 374.49,186.53 374.59,283.70" fill="#f29a3a" fill-opacity="0.3"/>
<polygon points="374.70,283.70 374.80,193.58 375.25,190.58 375.70,193.58 375.80,283.70" fill="#f29a3a" fill-opacity="0.3"/>
<polygon points="376.24,283.70 376.34,204.83 376.79,201.83 377.24,204.83 377.34,283.70" fill="#f29a3a" fill-opacity="0.3"/>
<polygon points="378.12,283.70 378.22,210.95 378.67,207.95 379.12,210.95 379.22,283.70" fill="#f29a3a" fill-opacity="0.3"/>
<polygon points="379.89,283.70 379.99,215.80 380.44,212.80 380.89,215.80 380.99,283.70" fill="#f29a3a" fill-opacity="0.3"/>
<polygon points="381.40,283.70 381.50,217.53 381.95,214.53 382.40,217.53 382.50,283.70" fill="#f29a3a" fill-opacity="0.3"/>
<polygon points="382.72,283.70 382.82,204.24 383.27,201.24 383.72,204.24 383.82,283.70" fill="#f29a3a" fill-opacity="0.3"/>
<polygon points="384.68,283.70 384.78,224.92 385.23,221.92 385.68,224.92 385.78,283.70" fill="#f29a3a" fill-opacity="0.3"/>
<polygon points="386.75,283.70 386.85,235.47 387.30,232.47 387.75,235.47 387.85,283.70" fill="#f29a3a" fill-opacity="0.3"/>
<polygon points="388.22,283.70 388.32,227.65 388.77,224.65 389.22,227.65 389.32,283.70" fill="#f29a3a" fill-opacity="0.3"/>
<polygon points="389.99,283.70 390.09,252.16 390.54,249.16 390.99,252.16 391.09,283.70" fill="#f29a3a" fill-opacity="0.3"/>
<polygon points="392.18,283.70 392.28,261.20 392.73,258.20 393.18,261.20 393.28,283.70" fill="#f29a3a" fill-opacity="0.3"/>
<polygon points="286.80,283.70 288.00,250.00 290.00,224.00 293.00,212.00 296.00,207.00 300.00,206.00 304.00,212.00 308.00,220.00 312.00,232.00 316.00,248.00 319.50,266.00 321.60,283.70" fill="#dd6a24" fill-opacity="1"/>
<polygon points="294.50,283.70 294.62,275.67 294.75,267.82 294.88,260.17 295.00,252.73 295.12,245.51 295.25,238.55 295.38,231.88 295.50,225.53 295.62,219.57 295.75,214.10 295.88,209.29 296.00,205.80 296.12,209.29 296.25,214.10 296.38,219.57 296.50,225.53 296.62,231.88 296.75,238.55 296.88,245.51 297.00,252.73 297.12,260.17 297.25,267.82 297.38,275.67 297.50,283.70" fill="#3aa83a" fill-opacity="0.8"/>
<polygon points="444.60,283.70 444.80,212.00 445.30,204.60 445.80,212.00 446.00,283.70" fill="#2d5ca6" fill-opacity="1"/>
<polygon points="451.00,283.70 451.52,271.00 452.03,259.02 452.55,247.75 453.07,237.17 453.58,227.25 454.10,217.99 454.62,209.36 455.13,201.35 455.65,193.93 456.17,187.09 456.68,180.80 457.20,175.06 457.72,169.83 458.23,165.10 458.75,160.85 459.27,157.05 459.78,153.68 460.30,150.73 460.82,148.17 461.33,145.98 461.85,144.13 462.37,142.59 462.88,141.35 463.40,140.38 463.92,139.65 464.43,139.13 464.95,138.79 465.47,138.60 465.98,138.51 466.50,138.50 466.82,138.51 467.13,138.60 467.45,138.79 467.77,139.13 468.08,139.65 468.40,140.38 468.72,141.35 469.03,142.59 469.35,144.13 469.67,145.98 469.98,148.17 470.30,150.73 470.62,153.68 470.93,157.05 471.25,160.85 471.57,165.10 471.88,169.83 472.20,175.06 472.52,180.80 472.83,187.09 473.15,193.93 473.47,201.35 473.78,209.36 474.10,217.99 474.42,227.25 474.73,237.17 475.05,247.75 475.37,259.02 475.68,271.00 476.00,283.70" fill="#2d5ca6" fill-opacity="0.25"/>
<polygon points="475.50,283.70 475.77,271.52 476.03,260.02 476.30,249.21 476.57,239.06 476.83,229.55 477.10,220.66 477.37,212.38 477.63,204.69 477.90,197.58 478.17,191.01 478.43,184.98 478.70,179.47 478.97,174.46 479.23,169.92 479.50,165.84 479.77,162.19 480.03,158.97 480.30,156.14 480.57,153.68 480.83,151.57 481.10,149.80 481.37,148.33 481.63,147.14 481.90,146.21 482.17,145.50 482.43,145.00 482.70,144.68 482.97,144.49 483.23,144.41 483.50,144.40 484.05,144.41 484.60,144.49 485.15,144.68 485.70,145.00 486.25,145.50 486.80,146.21 487.35,147.14 487.90,148.33 488.45,149.80 489.00,151.57 489.55,153.68 490.10,156.14 490.65,158.97 491.20,162.19 491.75,165.84 492.30,169.92 492.85,174.46 493.40,179.47 493.95,184.98 494.50,191.01 495.05,197.58 495.60,204.69 496.15,212.38 496.70,220.66 497.25,229.55 497.80,239.06 498.35,249.21 498.90,260.02 499.45,271.52 500.00,283.70" fill="#2d5ca6" fill-opacity="0.25"/>
<polygon points="459.00,283.70 459.30,277.66 459.60,271.86 459.90,266.30 460.20,260.99 460.50,255.91 460.80,251.07 461.10,246.47 461.40,242.11 461.70,237.97 462.00,234.07 462.30,230.39 462.60,226.94 462.90,223.71 463.20,220.70 463.50,217.90 463.80,215.33 464.10,212.96 464.40,210.80 464.70,208.85 465.00,207.10 465.30,205.55 465.60,204.19 465.90,203.02 466.20,202.04 466.50,201.23 466.80,200.60 467.10,200.13 467.40,199.82 467.70,199.65 468.00,199.60 468.27,199.65 468.53,199.82 468.80,200.13 469.07,200.60 469.33,201.23 469.60,202.04 469.87,203.02 470.13,204.19 470.40,205.55 470.67,207.10 470.93,208.85 471.20,210.80 471.47,212.96 471.73,215.33 472.00,217.90 472.27,220.70 472.53,223.71 472.80,226.94 473.07,230.39 473.33,234.07 473.60,237.97 473.87,242.11 474.13,246.47 474.40,251.07 474.67,255.91 474.93,260.99 475.20,266.30 475.47,271.86 475.73,277.66 476.00,283.70" fill="#2d5ca6" fill-opacity="0.45"/>
<polygon points="477.00,283.70 477.27,278.42 477.53,273.36 477.80,268.51 478.07,263.88 478.33,259.45 478.60,255.23 478.87,251.21 479.13,247.40 479.40,243.79 479.67,240.38 479.93,237.17 480.20,234.16 480.47,231.34 480.73,228.71 481.00,226.27 481.27,224.02 481.53,221.96 481.80,220.08 482.07,218.37 482.33,216.85 482.60,215.49 482.87,214.31 483.13,213.29 483.40,212.43 483.67,211.72 483.93,211.17 484.20,210.76 484.47,210.49 484.73,210.34 485.00,210.30 485.30,210.34 485.60,210.49 485.90,210.76 486.20,211.17 486.50,211.72 486.80,212.43 487.10,213.29 487.40,214.31 487.70,215.49 488.00,216.85 488.30,218.37 488.60,220.08 488.90,221.96 489.20,224.02 489.50,226.27 489.80,228.71 490.10,231.34 490.40,234.16 490.70,237.17 491.00,240.38 491.30,243.79 491.60,247.40 491.90,251.21 492.20,255.23 492.50,259.45 492.80,263.88 493.10,268.51 493.40,273.36 493.70,278.42 494.00,283.70" fill="#2d5ca6" fill-opacity="0.45"/>
<polygon points="447.00,283.70 447.23,279.49 447.47,275.43 447.70,271.50 447.93,267.72 448.17,264.08 448.40,260.59 448.63,257.24 448.87,254.03 449.10,250.96 449.33,248.03 449.57,245.25 449.80,242.61 450.03,240.12 450.27,237.76 450.50,235.55 450.73,233.48 450.97,231.56 451.20,229.77 451.43,228.13 451.67,226.63 451.90,225.28 452.13,224.07 452.37,223.00 452.60,222.07 452.83,221.28 453.07,220.64 453.30,220.14 453.53,219.79 453.77,219.57 454.00,219.50 454.23,219.57 454.47,219.79 454.70,220.14 454.93,220.64 455.17,221.28 455.40,222.07 455.63,223.00 455.87,224.07 456.10,225.28 456.33,226.63 456.57,228.13 456.80,229.77 457.03,231.56 457.27,233.48 457.50,235.55 457.73,237.76 457.97,240.12 458.20,242.61 458.43,245.25 458.67,248.03 458.90,250.96 459.13,254.03 459.37,257.24 459.60,260.59 459.83,264.08 460.07,267.72 460.30,271.50 460.53,275.43 460.77,279.49 461.00,283.70" fill="#2d5ca6" fill-opacity="0.4"/>
<polygon points="489.00,283.70 489.20,279.66 489.40,275.75 489.60,271.98 489.80,268.34 490.00,264.85 490.20,261.49 490.40,258.27 490.60,255.18 490.80,252.23 491.00,249.42 491.20,246.75 491.40,244.21 491.60,241.81 491.80,239.55 492.00,237.43 492.20,235.44 492.40,233.59 492.60,231.87 492.80,230.30 493.00,228.86 493.20,227.55 493.40,226.39 493.60,225.36 493.80,224.47 494.00,223.71 494.20,223.10 494.40,222.62 494.60,222.27 494.80,222.07 495.00,222.00 495.20,222.07 495.40,222.27 495.60,222.62 495.80,223.10 496.00,223.71 496.20,224.47 496.40,225.36 496.60,226.39 496.80,227.55 497.00,228.86 497.20,230.30 497.40,231.87 497.60,233.59 497.80,235.44 498.00,237.43 498.20,239.55 498.40,241.81 498.60,244.21 498.80,246.75 499.00,249.42 499.20,252.23 499.40,255.18 499.60,258.27 499.80,261.49 500.00,264.85 500.20,268.34 500.40,271.98 500.60,275.75 500.80,279.66 501.00,283.70" fill="#2d5ca6" fill-opacity="0.4"/>
<polygon points="461.00,283.70 461.23,280.57 461.47,277.55 461.70,274.64 461.93,271.83 462.17,269.12 462.40,266.53 462.63,264.04 462.87,261.65 463.10,259.37 463.33,257.20 463.57,255.13 463.80,253.17 464.03,251.32 464.27,249.57 464.50,247.93 464.73,246.39 464.97,244.96 465.20,243.63 465.43,242.41 465.67,241.30 465.90,240.29 466.13,239.39 466.37,238.60 466.60,237.91 466.83,237.33 467.07,236.85 467.30,236.48 467.53,236.21 467.77,236.05 468.00,236.00 468.23,236.05 468.47,236.21 468.70,236.48 468.93,236.85 469.17,237.33 469.40,237.91 469.63,238.60 469.87,239.39 470.10,240.29 470.33,241.30 470.57,242.41 470.80,243.63 471.03,244.96 471.27,246.39 471.50,247.93 471.73,249.57 471.97,251.32 472.20,253.17 472.43,255.13 472.67,257.20 472.90,259.37 473.13,261.65 473.37,264.04 473.60,266.53 473.83,269.12 474.07,271.83 474.30,274.64 474.53,277.55 474.77,280.57 475.00,283.70" fill="#2d5ca6" fill-opacity="0.4"/>
<polygon points="477.00,283.70 477.23,280.84 477.47,278.07 477.70,275.40 477.93,272.82 478.17,270.35 478.40,267.97 478.63,265.69 478.87,263.50 479.10,261.41 479.33,259.42 479.57,257.53 479.80,255.73 480.03,254.03 480.27,252.43 480.50,250.93 480.73,249.52 480.97,248.21 481.20,246.99 481.43,245.88 481.67,244.86 481.90,243.93 482.13,243.11 482.37,242.38 482.60,241.75 482.83,241.21 483.07,240.78 483.30,240.44 483.53,240.19 483.77,240.05 484.00,240.00 484.20,240.05 484.40,240.19 484.60,240.44 484.80,240.78 485.00,241.21 485.20,241.75 485.40,242.38 485.60,243.11 485.80,243.93 486.00,244.86 486.20,245.88 486.40,246.99 486.60,248.21 486.80,249.52 487.00,250.93 487.20,252.43 487.40,254.03 487.60,255.73 487.80,257.53 488.00,259.42 488.20,261.41 488.40,263.50 488.60,265.69 488.80,267.97 489.00,270.35 489.20,272.82 489.40,275.40 489.60,278.07 489.80,280.84 490.00,283.70" fill="#2d5ca6" fill-opacity="0.4"/>
<polygon points="452.00,283.70 452.30,281.49 452.60,279.36 452.90,277.30 453.20,275.31 453.50,273.40 453.80,271.57 454.10,269.81 454.40,268.12 454.70,266.51 455.00,264.98 455.30,263.52 455.60,262.13 455.90,260.82 456.20,259.59 456.50,258.43 456.80,257.34 457.10,256.33 457.40,255.39 457.70,254.53 458.00,253.74 458.30,253.03 458.60,252.40 458.90,251.83 459.20,251.35 459.50,250.94 459.80,250.60 460.10,250.34 460.40,250.15 460.70,250.04 461.00,250.00 461.30,250.04 461.60,250.15 461.90,250.34 462.20,250.60 462.50,250.94 462.80,251.35 463.10,251.83 463.40,252.40 463.70,253.03 464.00,253.74 464.30,254.53 464.60,255.39 464.90,256.33 465.20,257.34 465.50,258.43 465.80,259.59 466.10,260.82 466.40,262.13 466.70,263.52 467.00,264.98 467.30,266.51 467.60,268.12 467.90,269.81 468.20,271.57 468.50,273.40 468.80,275.31 469.10,277.30 469.40,279.36 469.70,281.49 470.00,283.70" fill="#2d5ca6" fill-opacity="0.3"/>
<polygon points="474.40,283.70 474.60,135.00 475.40,128.50 476.20,135.00 476.40,283.70" fill="#2d5ca6" fill-opacity="1"/>
<polygon points="508.50,283.70 508.87,272.11 509.23,261.66 509.60,252.27 509.97,243.86 510.33,236.38 510.70,229.74 511.07,223.88 511.43,218.73 511.80,214.25 512.17,210.35 512.53,207.01 512.90,204.15 513.27,201.72 513.63,199.70 514.00,198.01 514.37,196.63 514.73,195.52 515.10,194.64 515.47,193.95 515.83,193.43 516.20,193.04 516.57,192.76 516.93,192.57 517.30,192.45 517.67,192.37 518.03,192.33 518.40,192.31 518.77,192.30 519.13,192.30 519.50,192.30 519.85,192.30 520.20,192.30 520.55,192.31 520.90,192.33 521.25,192.37 521.60,192.45 521.95,192.57 522.30,192.76 522.65,193.04 523.00,193.43 523.35,193.95 523.70,194.64 524.05,195.52 524.40,196.63 524.75,198.01 525.10,199.70 525.45,201.72 525.80,204.15 526.15,207.01 526.50,210.35 526.85,214.25 527.20,218.73 527.55,223.88 527.90,229.74 528.25,236.38 528.60,243.86 528.95,252.27 529.30,261.66 529.65,272.11 530.00,283.70" fill="#3aa83a" fill-opacity="0.28"/>
<polygon points="532.00,283.70 532.32,273.09 532.63,263.51 532.95,254.92 533.27,247.22 533.58,240.36 533.90,234.28 534.22,228.92 534.53,224.21 534.85,220.10 535.17,216.53 535.48,213.47 535.80,210.85 536.12,208.63 536.43,206.77 536.75,205.23 537.07,203.97 537.38,202.95 537.70,202.14 538.02,201.51 538.33,201.03 538.65,200.68 538.97,200.42 539.28,200.25 539.60,200.13 539.92,200.06 540.23,200.03 540.55,200.01 540.87,200.00 541.18,200.00 541.50,200.00 541.88,200.00 542.27,200.00 542.65,200.01 543.03,200.03 543.42,200.06 543.80,200.13 544.18,200.25 544.57,200.42 544.95,200.68 545.33,201.03 545.72,201.51 546.10,202.14 546.48,202.95 546.87,203.97 547.25,205.23 547.63,206.77 548.02,208.63 548.40,210.85 548.78,213.47 549.17,216.53 549.55,220.10 549.93,224.21 550.32,228.92 550.70,234.28 551.08,240.36 551.47,247.22 551.85,254.92 552.23,263.51 552.62,273.09 553.00,283.70" fill="#3aa83a" fill-opacity="0.28"/>
<polygon points="510.00,283.70 510.23,278.48 510.47,273.53 510.70,268.83 510.93,264.39 511.17,260.20 511.40,256.25 511.63,252.54 511.87,249.07 512.10,245.82 512.33,242.80 512.57,239.99 512.80,237.40 513.03,235.02 513.27,232.84 513.50,230.85 513.73,229.05 513.97,227.44 514.20,226.00 514.43,224.73 514.67,223.62 514.90,222.66 515.13,221.86 515.37,221.19 515.60,220.65 515.83,220.23 516.07,219.92 516.30,219.70 516.53,219.57 516.77,219.51 517.00,219.50 517.33,219.51 517.67,219.57 518.00,219.70 518.33,219.92 518.67,220.23 519.00,220.65 519.33,221.19 519.67,221.86 520.00,222.66 520.33,223.62 520.67,224.73 521.00,226.00 521.33,227.44 521.67,229.05 522.00,230.85 522.33,232.84 522.67,235.02 523.00,237.40 523.33,239.99 523.67,242.80 524.00,245.82 524.33,249.07 524.67,252.54 525.00,256.25 525.33,260.20 525.67,264.39 526.00,268.83 526.33,273.53 526.67,278.48 527.00,283.70" fill="#3aa83a" fill-opacity="0.3"/>
<polygon points="512.00,283.70 512.20,281.29 512.40,278.97 512.60,276.73 512.80,274.57 513.00,272.49 513.20,270.49 513.40,268.57 513.60,266.74 513.80,264.98 514.00,263.31 514.20,261.72 514.40,260.21 514.60,258.78 514.80,257.44 515.00,256.18 515.20,254.99 515.40,253.89 515.60,252.87 515.80,251.93 516.00,251.08 516.20,250.30 516.40,249.61 516.60,249.00 516.80,248.47 517.00,248.02 517.20,247.65 517.40,247.37 517.60,247.16 517.80,247.04 518.00,247.00 518.27,247.04 518.53,247.16 518.80,247.37 519.07,247.65 519.33,248.02 519.60,248.47 519.87,249.00 520.13,249.61 520.40,250.30 520.67,251.08 520.93,251.93 521.20,252.87 521.47,253.89 521.73,254.99 522.00,256.18 522.27,257.44 522.53,258.78 522.80,260.21 523.07,261.72 523.33,263.31 523.60,264.98 523.87,266.74 524.13,268.57 524.40,270.49 524.67,272.49 524.93,274.57 525.20,276.73 525.47,278.97 525.73,281.29 526.00,283.70" fill="#3aa83a" fill-opacity="0.45"/>
<polygon points="529.60,283.70 530.20,182.70 530.80,283.70" fill="#3aa83a" fill-opacity="0.9"/>
<polygon points="498.70,283.70 499.50,205.00 500.30,283.70" fill="#3aa83a" fill-opacity="0.45"/>
<polygon points="501.20,283.70 502.00,215.00 502.80,283.70" fill="#3aa83a" fill-opacity="0.45"/>
<polygon points="504.20,283.70 505.00,200.00 505.80,283.70" fill="#3aa83a" fill-opacity="0.45"/>
<polygon points="506.70,283.70 507.50,210.00 508.30,283.70" fill="#3aa83a" fill-opacity="0.45"/>
<polygon points="508.70,283.70 509.50,220.00 510.30,283.70" fill="#3aa83a" fill-opacity="0.45"/>
<polygon points="499.00,283.70 502.00,235.00 506.00,228.00 510.00,236.00 513.00,283.70" fill="#3aa83a" fill-opacity="0.35"/>
<polygon points="521.00,283.70 528.00,238.00 540.00,226.00 553.00,219.00 565.00,216.00 572.00,213.00 576.00,208.00 580.00,203.00 584.00,204.00 588.00,209.00 591.00,218.00 593.00,232.00 595.00,240.00 597.00,222.00 600.00,211.00 604.00,208.70 610.00,209.00 613.40,212.00 613.40,283.70" fill="#dd6a24" fill-opacity="0.4"/>
<polygon points="522.00,283.70 524.00,250.00 530.00,238.00 537.00,229.00 545.00,224.00 553.00,220.00 562.00,218.50 572.00,218.00 580.00,219.00 585.00,221.00 589.00,225.00 592.00,233.00 594.00,240.00 596.50,233.00 598.00,224.00 602.00,221.00 607.00,222.00 613.40,223.00 613.40,283.70" fill="#dd6a24" fill-opacity="1"/>
<polygon points="532.89,265.70 532.89,236.09 533.69,236.09 533.69,265.70" fill="#ffffff" fill-opacity="0.3386713433996627"/>
<polygon points="536.02,265.70 536.02,268.05 536.82,268.05 536.82,265.70" fill="#ffffff" fill-opacity="0.24381380955643273"/>
<polygon points="539.67,265.70 539.67,237.27 540.47,237.27 540.47,265.70" fill="#ffffff" fill-opacity="0.3332690743617104"/>
<polygon points="544.93,265.70 544.93,248.63 545.73,248.63 545.73,265.70" fill="#ffffff" fill-opacity="0.1503549724405069"/>
<polygon points="548.61,265.70 548.61,231.49 549.41,231.49 549.41,265.70" fill="#ffffff" fill-opacity="0.346484221765185"/>
<polygon points="555.13,265.70 555.13,248.77 555.93,248.77 555.93,265.70" fill="#ffffff" fill-opacity="0.3381952002175998"/>
<polygon points="560.61,265.70 560.61,234.89 561.41,234.89 561.41,265.70" fill="#ffffff" fill-opacity="0.1791403819081365"/>
<polygon points="563.78,265.70 563.78,246.86 564.58,246.86 564.58,265.70" fill="#ffffff" fill-opacity="0.21199158632062576"/>
<polygon points="567.33,265.70 567.33,238.18 568.13,238.18 568.13,265.70" fill="#ffffff" fill-opacity="0.24624367724737276"/>
<polygon points="573.69,265.70 573.69,250.37 574.49,250.37 574.49,265.70" fill="#ffffff" fill-opacity="0.2657037658113749"/>
<polygon points="575.21,265.70 575.21,221.36 576.01,221.36 576.01,265.70" fill="#ffffff" fill-opacity="0.34103597991823326"/>
<polygon points="581.06,265.70 581.06,235.67 581.86,235.67 581.86,265.70" fill="#ffffff" fill-opacity="0.254940364138624"/>
<polygon points="587.99,265.70 587.99,259.14 588.79,259.14 588.79,265.70" fill="#ffffff" fill-opacity="0.3391600370084367"/>
<polygon points="596.38,265.70 596.38,241.39 597.18,241.39 597.18,265.70" fill="#ffffff" fill-opacity="0.1854955551009977"/>
<polygon points="602.06,265.70 602.06,230.17 602.86,230.17 602.86,265.70" fill="#ffffff" fill-opacity="0.34733982175685346"/>
<polygon points="604.90,265.70 604.90,239.76 605.70,239.76 605.70,265.70" fill="#ffffff" fill-opacity="0.26879204413865937"/>
<polygon points="608.46,265.70 608.46,241.52 609.26,241.52 609.26,265.70" fill="#ffffff" fill-opacity="0.1611414462015787"/>
<polygon points="612.25,265.70 612.25,224.36 613.05,224.36 613.05,265.70" fill="#ffffff" fill-opacity="0.31768585623362644"/>
</g>
<rect x="98" y="66.4" width="508.7" height="42.2" rx="3" fill="#ffffff" fill-opacity="0.8" stroke="#d0d0d0" stroke-width="1"/>
<line x1="101.9" y1="76.9" x2="132.70000000000002" y2="76.9" stroke="#a8a8a8" stroke-width="3"/>
<text x="141.9" y="81.4" font-family="'Liberation Sans', sans-serif" font-size="13.5" fill="#262626"><tspan>CH</tspan><tspan font-size="9.45" dy="3">4</tspan><tspan dy="-3"></tspan></text>
<line x1="101.9" y1="95.7" x2="132.70000000000002" y2="95.7" stroke="#2a1d4e" stroke-width="3"/>
<text x="141.9" y="99.7" font-family="'Liberation Sans', sans-serif" font-size="13.5" fill="#262626"><tspan>CO</tspan></text>
<line x1="216.1" y1="76.9" x2="246.9" y2="76.9" stroke="#2d5ca6" stroke-width="3"/>
<text x="256.1" y="81.4" font-family="'Liberation Sans', sans-serif" font-size="13.5" fill="#262626"><tspan>CO</tspan><tspan font-size="9.45" dy="3">2</tspan><tspan dy="-3"></tspan></text>
<line x1="216.1" y1="95.7" x2="246.9" y2="95.7" stroke="#6cc4b2" stroke-width="3"/>
<text x="256.1" y="99.7" font-family="'Liberation Sans', sans-serif" font-size="13.5" fill="#262626"><tspan>H</tspan><tspan font-size="9.45" dy="3">2</tspan><tspan dy="-3"></tspan><tspan>O</tspan></text>
<line x1="321.5" y1="76.9" x2="352.3" y2="76.9" stroke="#3aa83a" stroke-width="3"/>
<text x="361.5" y="81.4" font-family="'Liberation Sans', sans-serif" font-size="13.5" fill="#262626"><tspan>N</tspan><tspan font-size="9.45" dy="3">2</tspan><tspan dy="-3"></tspan><tspan>O</tspan></text>
<line x1="321.5" y1="95.7" x2="352.3" y2="95.7" stroke="#a6bf34" stroke-width="3"/>
<text x="361.5" y="99.7" font-family="'Liberation Sans', sans-serif" font-size="13.5" fill="#262626"><tspan>NH</tspan><tspan font-size="9.45" dy="3">3</tspan><tspan dy="-3"></tspan></text>
<line x1="425.6" y1="76.9" x2="456.40000000000003" y2="76.9" stroke="#d6a01e" stroke-width="3"/>
<text x="465.6" y="81.4" font-family="'Liberation Sans', sans-serif" font-size="13.5" fill="#262626"><tspan>NO</tspan><tspan font-size="9.45" dy="3">2</tspan><tspan dy="-3"></tspan></text>
<line x1="425.6" y1="95.7" x2="456.40000000000003" y2="95.7" stroke="#f29a3a" stroke-width="3"/>
<text x="465.6" y="99.7" font-family="'Liberation Sans', sans-serif" font-size="13.5" fill="#262626"><tspan>C</tspan><tspan font-size="9.45" dy="3">2</tspan><tspan dy="-3"></tspan><tspan>H</tspan><tspan font-size="9.45" dy="3">4</tspan><tspan dy="-3"></tspan></text>
<line x1="536.8" y1="76.9" x2="567.5999999999999" y2="76.9" stroke="#b38b68" stroke-width="3"/>
<text x="576.8" y="81.4" font-family="'Liberation Sans', sans-serif" font-size="13.5" fill="#262626"><tspan>O</tspan><tspan font-size="9.45" dy="3">3</tspan><tspan dy="-3"></tspan></text>
<line x1="536.8" y1="95.7" x2="567.5999999999999" y2="95.7" stroke="#dd6a24" stroke-width="3"/>
<text x="576.8" y="99.7" font-family="'Liberation Sans', sans-serif" font-size="13.5" fill="#262626"><tspan>SO</tspan><tspan font-size="9.45" dy="3">2</tspan><tspan dy="-3"></tspan></text>
<rect x="92.0" y="59.6" width="521.4" height="224.1" fill="none" stroke="#000" stroke-width="1.8"/>
<text x="92.00" y="302.9" font-family="'Liberation Sans', sans-serif" font-size="13.8" fill="#262626" text-anchor="middle">1</text>
<text x="119.44" y="302.9" font-family="'Liberation Sans', sans-serif" font-size="13.8" fill="#262626" text-anchor="middle">2</text>
<text x="174.33" y="302.9" font-family="'Liberation Sans', sans-serif" font-size="13.8" fill="#262626" text-anchor="middle">4</text>
<text x="229.21" y="302.9" font-family="'Liberation Sans', sans-serif" font-size="13.8" fill="#262626" text-anchor="middle">6</text>
<text x="284.09" y="302.9" font-family="'Liberation Sans', sans-serif" font-size="13.8" fill="#262626" text-anchor="middle">8</text>
<text x="338.98" y="302.9" font-family="'Liberation Sans', sans-serif" font-size="13.8" fill="#262626" text-anchor="middle">10</text>
<text x="393.86" y="302.9" font-family="'Liberation Sans', sans-serif" font-size="13.8" fill="#262626" text-anchor="middle">12</text>
<text x="448.75" y="302.9" font-family="'Liberation Sans', sans-serif" font-size="13.8" fill="#262626" text-anchor="middle">14</text>
<text x="503.63" y="302.9" font-family="'Liberation Sans', sans-serif" font-size="13.8" fill="#262626" text-anchor="middle">16</text>
<text x="558.52" y="302.9" font-family="'Liberation Sans', sans-serif" font-size="13.8" fill="#262626" text-anchor="middle">18</text>
<text x="613.40" y="302.9" font-family="'Liberation Sans', sans-serif" font-size="13.8" fill="#262626" text-anchor="middle">20</text>
<text x="119.44" y="46.8" font-family="'Liberation Sans', sans-serif" font-size="13.5" fill="#262626" text-anchor="middle">5000</text>
<text x="174.33" y="46.8" font-family="'Liberation Sans', sans-serif" font-size="13.5" fill="#262626" text-anchor="middle">2500</text>
<text x="229.21" y="46.8" font-family="'Liberation Sans', sans-serif" font-size="13.5" fill="#262626" text-anchor="middle">1667</text>
<text x="284.09" y="46.8" font-family="'Liberation Sans', sans-serif" font-size="13.5" fill="#262626" text-anchor="middle">1250</text>
<text x="338.98" y="46.8" font-family="'Liberation Sans', sans-serif" font-size="13.5" fill="#262626" text-anchor="middle">1000</text>
<text x="393.86" y="46.8" font-family="'Liberation Sans', sans-serif" font-size="13.5" fill="#262626" text-anchor="middle">833</text>
<text x="448.75" y="46.8" font-family="'Liberation Sans', sans-serif" font-size="13.5" fill="#262626" text-anchor="middle">714</text>
<text x="503.63" y="46.8" font-family="'Liberation Sans', sans-serif" font-size="13.5" fill="#262626" text-anchor="middle">625</text>
<text x="558.52" y="46.8" font-family="'Liberation Sans', sans-serif" font-size="13.5" fill="#262626" text-anchor="middle">556</text>
<text x="613.40" y="46.8" font-family="'Liberation Sans', sans-serif" font-size="13.5" fill="#262626" text-anchor="middle">500</text>
<text x="66" y="66.60" font-family="'Liberation Sans', sans-serif" font-size="13.8" fill="#262626" text-anchor="end">10</text>
<text x="66" y="57.40" font-family="'Liberation Sans', sans-serif" font-size="9.4" fill="#262626">−17</text>
<text x="66" y="111.42" font-family="'Liberation Sans', sans-serif" font-size="13.8" fill="#262626" text-anchor="end">10</text>
<text x="66" y="102.22" font-family="'Liberation Sans', sans-serif" font-size="9.4" fill="#262626">−18</text>
<text x="66" y="156.24" font-family="'Liberation Sans', sans-serif" font-size="13.8" fill="#262626" text-anchor="end">10</text>
<text x="66" y="147.04" font-family="'Liberation Sans', sans-serif" font-size="9.4" fill="#262626">−19</text>
<text x="66" y="201.06" font-family="'Liberation Sans', sans-serif" font-size="13.8" fill="#262626" text-anchor="end">10</text>
<text x="66" y="191.86" font-family="'Liberation Sans', sans-serif" font-size="9.4" fill="#262626">−20</text>
<text x="66" y="245.88" font-family="'Liberation Sans', sans-serif" font-size="13.8" fill="#262626" text-anchor="end">10</text>
<text x="66" y="236.68" font-family="'Liberation Sans', sans-serif" font-size="9.4" fill="#262626">−21</text>
<text x="66" y="290.70" font-family="'Liberation Sans', sans-serif" font-size="13.8" fill="#262626" text-anchor="end">10</text>
<text x="66" y="281.50" font-family="'Liberation Sans', sans-serif" font-size="9.4" fill="#262626">−22</text>
<path d="M92.00,283.7v6 M119.44,283.7v6 M174.33,283.7v6 M229.21,283.7v6 M284.09,283.7v6 M338.98,283.7v6 M393.86,283.7v6 M448.75,283.7v6 M503.63,283.7v6 M558.52,283.7v6 M613.40,283.7v6 M119.44,59.6v-6 M174.33,59.6v-6 M229.21,59.6v-6 M284.09,59.6v-6 M338.98,59.6v-6 M393.86,59.6v-6 M448.75,59.6v-6 M503.63,59.6v-6 M558.52,59.6v-6 M613.40,59.6v-6 M92.0,59.60h-6 M92.0,104.42h-6 M92.0,149.24h-6 M92.0,194.06h-6 M92.0,238.88h-6 M92.0,283.70h-6" stroke="#000" stroke-width="1.3" fill="none"/>
<path d="M105.72,283.7v3 M133.16,283.7v3 M146.88,283.7v3 M160.61,283.7v3 M188.05,283.7v3 M201.77,283.7v3 M215.49,283.7v3 M242.93,283.7v3 M256.65,283.7v3 M270.37,283.7v3 M297.82,283.7v3 M311.54,283.7v3 M325.26,283.7v3 M352.70,283.7v3 M366.42,283.7v3 M380.14,283.7v3 M407.58,283.7v3 M421.31,283.7v3 M435.03,283.7v3 M462.47,283.7v3 M476.19,283.7v3 M489.91,283.7v3 M517.35,283.7v3 M531.07,283.7v3 M544.79,283.7v3 M572.24,283.7v3 M585.96,283.7v3 M599.68,283.7v3 M92.0,90.93h-3 M92.0,83.04h-3 M92.0,77.44h-3 M92.0,73.09h-3 M92.0,69.54h-3 M92.0,66.54h-3 M92.0,63.94h-3 M92.0,61.65h-3 M92.0,135.75h-3 M92.0,127.86h-3 M92.0,122.26h-3 M92.0,117.91h-3 M92.0,114.36h-3 M92.0,111.36h-3 M92.0,108.76h-3 M92.0,106.47h-3 M92.0,180.57h-3 M92.0,172.68h-3 M92.0,167.08h-3 M92.0,162.73h-3 M92.0,159.18h-3 M92.0,156.18h-3 M92.0,153.58h-3 M92.0,151.29h-3 M92.0,225.39h-3 M92.0,217.50h-3 M92.0,211.90h-3 M92.0,207.55h-3 M92.0,204.00h-3 M92.0,201.00h-3 M92.0,198.40h-3 M92.0,196.11h-3 M92.0,270.21h-3 M92.0,262.32h-3 M92.0,256.72h-3 M92.0,252.37h-3 M92.0,248.82h-3 M92.0,245.82h-3 M92.0,243.22h-3 M92.0,240.93h-3" stroke="#000" stroke-width="1" fill="none"/>
<text x="290.2" y="27" font-family="'Liberation Sans', sans-serif" font-size="13.5" fill="#262626">Wavenumber (cm<tspan font-size="10" dy="-5.5" dx="1.5">−</tspan><tspan font-size="10" dx="1.5">1</tspan><tspan dy="5.5" dx="2.6">)</tspan></text>
<text x="301.4" y="318.4" font-family="'Liberation Sans', sans-serif" font-size="13.5" fill="#262626">Wavelength (μm)</text>
<text transform="translate(44.3,171.5) rotate(-90)" font-family="'Liberation Sans', sans-serif" font-size="13.8" fill="#262626" text-anchor="middle">Line strength (cm<tspan font-size="9.4" dy="-5">−1</tspan><tspan dy="5">/(molec·cm</tspan><tspan font-size="9.4" dy="-5">−2</tspan><tspan dy="5">))</tspan></text>
<text x="43" y="21" font-family="'Liberation Sans', sans-serif" font-size="18" fill="#333" textLength="24.5" lengthAdjust="spacing">(a)</text>
<text x="43" y="361" font-family="'Liberation Sans', sans-serif" font-size="18" fill="#333" textLength="24.5" lengthAdjust="spacing">(b)</text>
<rect x="434" y="265.4" width="177" height="17.9" fill="#ffffff" fill-opacity="0.7"/>
<text x="436.3" y="279.4" font-family="'Liberation Sans', sans-serif" font-size="15.2" font-weight="bold" fill="#111" stroke="#111" stroke-width="0.3" textLength="172.7" lengthAdjust="spacingAndGlyphs">Atmospheric molecules</text>
<defs><clipPath id="cb"><path d="M180.80,572.60 C181.67,572.25 184.17,571.72 186.00,570.50 C187.83,569.28 189.97,567.88 191.80,565.30 C193.63,562.72 195.18,558.67 197.00,555.00 C198.82,551.33 200.53,547.30 202.70,543.30 C204.87,539.30 207.35,534.88 210.00,531.00 C212.65,527.12 215.93,523.17 218.60,520.00 C221.27,516.83 224.10,514.83 226.00,512.00 C227.90,509.17 228.78,506.53 230.00,503.00 C231.22,499.47 232.27,493.45 233.30,490.80 C234.33,488.15 235.25,486.90 236.20,487.10 C237.15,487.30 237.65,489.15 239.00,492.00 C240.35,494.85 242.00,499.72 244.30,504.20 C246.60,508.68 250.37,515.00 252.80,518.90 C255.23,522.80 257.07,525.95 258.90,527.60 C260.73,529.25 262.17,527.57 263.80,528.80 C265.43,530.03 267.07,533.00 268.70,535.00 C270.33,537.00 272.18,541.87 273.60,540.80 C275.02,539.73 276.30,531.03 277.20,528.60 C278.10,526.17 278.45,526.30 279.00,526.20 C279.55,526.10 280.00,527.95 280.50,528.00 C281.00,528.05 281.32,525.58 282.00,526.50 C282.68,527.42 283.85,532.58 284.60,533.50 C285.35,534.42 285.68,530.78 286.50,532.00 C287.32,533.22 288.40,538.10 289.50,540.80 C290.60,543.50 291.48,545.95 293.10,548.20 C294.72,550.45 297.22,552.58 299.20,554.30 C301.18,556.02 302.97,557.28 305.00,558.50 C307.03,559.72 307.75,560.47 311.40,561.60 C315.05,562.73 320.65,564.08 326.90,565.30 C333.15,566.52 341.72,568.28 348.90,568.90 C356.08,569.52 361.87,569.00 370.00,569.00 C378.13,569.00 391.03,568.73 397.70,568.90 C404.37,569.07 404.70,569.82 410.00,570.00 C415.30,570.18 425.28,570.45 429.50,570.00 C433.72,569.55 433.73,568.63 435.30,567.30 C436.87,565.97 437.95,563.88 438.90,562.00 C439.85,560.12 440.42,558.37 441.00,556.00 C441.58,553.63 441.82,554.63 442.40,547.80 C442.98,540.97 443.85,524.63 444.50,515.00 C445.15,505.37 445.82,496.37 446.30,490.00 C446.78,483.63 447.08,484.50 447.40,476.80 C447.72,469.10 447.85,454.77 448.20,443.80 C448.55,432.83 449.13,419.22 449.50,411.00 C449.87,402.78 450.07,398.50 450.40,394.50 C450.73,390.50 451.18,388.65 451.50,387.00 C451.82,385.35 452.02,384.68 452.30,384.60 C452.58,384.52 452.92,384.77 453.20,386.50 C453.48,388.23 453.60,388.18 454.00,395.00 C454.40,401.82 455.05,416.52 455.60,427.40 C456.15,438.28 456.83,452.03 457.30,460.30 C457.77,468.57 458.02,475.05 458.40,477.00 C458.78,478.95 459.23,474.83 459.60,472.00 C459.97,469.17 460.30,464.70 460.60,460.00 C460.90,455.30 461.00,450.47 461.40,443.80 C461.80,437.13 462.58,425.97 463.00,420.00 C463.42,414.03 463.65,412.17 463.90,408.00 C464.15,403.83 464.32,397.80 464.50,395.00 C464.68,392.20 464.80,391.37 465.00,391.20 C465.20,391.03 465.43,392.03 465.70,394.00 C465.97,395.97 466.25,399.83 466.60,403.00 C466.95,406.17 467.30,406.20 467.80,413.00 C468.30,419.80 469.02,433.17 469.60,443.80 C470.18,454.43 470.78,468.37 471.30,476.80 C471.82,485.23 472.18,491.47 472.70,494.40 C473.22,497.33 473.82,496.17 474.40,494.40 C474.98,492.63 475.60,484.98 476.20,483.80 C476.80,482.62 477.40,485.53 478.00,487.30 C478.60,489.07 478.92,496.77 479.80,494.40 C480.68,492.03 482.42,476.33 483.30,473.10 C484.18,469.87 484.50,471.73 485.10,475.00 C485.70,478.27 486.02,489.47 486.90,492.70 C487.78,495.93 489.22,494.70 490.40,494.40 C491.58,494.10 493.10,491.80 494.00,490.90 C494.90,490.00 494.92,488.70 495.80,489.00 C496.68,489.30 498.57,491.83 499.30,492.70 C500.03,493.57 499.42,494.82 500.20,494.20 C500.98,493.58 502.93,487.28 504.00,489.00 C505.07,490.72 505.52,499.55 506.60,504.50 C507.68,509.45 509.43,516.98 510.50,518.70 C511.57,520.42 511.92,514.80 513.00,514.80 C514.08,514.80 515.70,518.92 517.00,518.70 C518.30,518.48 519.52,515.43 520.80,513.50 C522.08,511.57 523.83,508.38 524.70,507.10 C525.57,505.82 525.37,505.37 526.00,505.80 C526.63,506.23 527.43,507.77 528.50,509.70 C529.57,511.63 531.10,513.97 532.40,517.40 C533.70,520.83 535.00,526.87 536.30,530.30 C537.60,533.73 539.13,536.48 540.20,538.00 C541.27,539.52 541.85,539.60 542.70,539.40 C543.55,539.20 544.43,537.03 545.30,536.80 C546.17,536.57 546.62,538.65 547.90,538.00 C549.18,537.35 551.48,535.47 553.00,532.90 C554.52,530.33 555.50,525.42 557.00,522.60 C558.50,519.78 561.17,517.10 562.00,516.00 L562,572.8 L180.8,572.8 Z"/></clipPath></defs>
<g clip-path="url(#cb)">
<rect x="170" y="370" width="103.10" height="202.80" fill="#7dd3a0"/>
<rect x="273.1" y="370" width="54.90" height="202.80" fill="#8fb3e0"/>
<rect x="433.9" y="370" width="9.00" height="202.80" fill="#8fb3e0"/>
<rect x="442.9" y="370" width="29.80" height="202.80" fill="#7dd3a0"/>
<rect x="472.7" y="370" width="7.10" height="202.80" fill="#8fb3e0"/>
<rect x="479.8" y="370" width="21.50" height="202.80" fill="#7dd3a0"/>
<rect x="501.3" y="370" width="7.90" height="202.80" fill="#f47c7c"/>
<rect x="509.2" y="370" width="14.20" height="202.80" fill="#f9d77c"/>
<rect x="523.4" y="370" width="5.10" height="202.80" fill="#f47c7c"/>
<rect x="528.5" y="370" width="19.40" height="202.80" fill="#f9d77c"/>
</g>
<path d="M170,572.8 L180.8,572.6  C181.67,572.25 184.17,571.72 186.00,570.50 C187.83,569.28 189.97,567.88 191.80,565.30 C193.63,562.72 195.18,558.67 197.00,555.00 C198.82,551.33 200.53,547.30 202.70,543.30 C204.87,539.30 207.35,534.88 210.00,531.00 C212.65,527.12 215.93,523.17 218.60,520.00 C221.27,516.83 224.10,514.83 226.00,512.00 C227.90,509.17 228.78,506.53 230.00,503.00 C231.22,499.47 232.27,493.45 233.30,490.80 C234.33,488.15 235.25,486.90 236.20,487.10 C237.15,487.30 237.65,489.15 239.00,492.00 C240.35,494.85 242.00,499.72 244.30,504.20 C246.60,508.68 250.37,515.00 252.80,518.90 C255.23,522.80 257.07,525.95 258.90,527.60 C260.73,529.25 262.17,527.57 263.80,528.80 C265.43,530.03 267.07,533.00 268.70,535.00 C270.33,537.00 272.18,541.87 273.60,540.80 C275.02,539.73 276.30,531.03 277.20,528.60 C278.10,526.17 278.45,526.30 279.00,526.20 C279.55,526.10 280.00,527.95 280.50,528.00 C281.00,528.05 281.32,525.58 282.00,526.50 C282.68,527.42 283.85,532.58 284.60,533.50 C285.35,534.42 285.68,530.78 286.50,532.00 C287.32,533.22 288.40,538.10 289.50,540.80 C290.60,543.50 291.48,545.95 293.10,548.20 C294.72,550.45 297.22,552.58 299.20,554.30 C301.18,556.02 302.97,557.28 305.00,558.50 C307.03,559.72 307.75,560.47 311.40,561.60 C315.05,562.73 320.65,564.08 326.90,565.30 C333.15,566.52 341.72,568.28 348.90,568.90 C356.08,569.52 361.87,569.00 370.00,569.00 C378.13,569.00 391.03,568.73 397.70,568.90 C404.37,569.07 404.70,569.82 410.00,570.00 C415.30,570.18 425.28,570.45 429.50,570.00 C433.72,569.55 433.73,568.63 435.30,567.30 C436.87,565.97 437.95,563.88 438.90,562.00 C439.85,560.12 440.42,558.37 441.00,556.00 C441.58,553.63 441.82,554.63 442.40,547.80 C442.98,540.97 443.85,524.63 444.50,515.00 C445.15,505.37 445.82,496.37 446.30,490.00 C446.78,483.63 447.08,484.50 447.40,476.80 C447.72,469.10 447.85,454.77 448.20,443.80 C448.55,432.83 449.13,419.22 449.50,411.00 C449.87,402.78 450.07,398.50 450.40,394.50 C450.73,390.50 451.18,388.65 451.50,387.00 C451.82,385.35 452.02,384.68 452.30,384.60 C452.58,384.52 452.92,384.77 453.20,386.50 C453.48,388.23 453.60,388.18 454.00,395.00 C454.40,401.82 455.05,416.52 455.60,427.40 C456.15,438.28 456.83,452.03 457.30,460.30 C457.77,468.57 458.02,475.05 458.40,477.00 C458.78,478.95 459.23,474.83 459.60,472.00 C459.97,469.17 460.30,464.70 460.60,460.00 C460.90,455.30 461.00,450.47 461.40,443.80 C461.80,437.13 462.58,425.97 463.00,420.00 C463.42,414.03 463.65,412.17 463.90,408.00 C464.15,403.83 464.32,397.80 464.50,395.00 C464.68,392.20 464.80,391.37 465.00,391.20 C465.20,391.03 465.43,392.03 465.70,394.00 C465.97,395.97 466.25,399.83 466.60,403.00 C466.95,406.17 467.30,406.20 467.80,413.00 C468.30,419.80 469.02,433.17 469.60,443.80 C470.18,454.43 470.78,468.37 471.30,476.80 C471.82,485.23 472.18,491.47 472.70,494.40 C473.22,497.33 473.82,496.17 474.40,494.40 C474.98,492.63 475.60,484.98 476.20,483.80 C476.80,482.62 477.40,485.53 478.00,487.30 C478.60,489.07 478.92,496.77 479.80,494.40 C480.68,492.03 482.42,476.33 483.30,473.10 C484.18,469.87 484.50,471.73 485.10,475.00 C485.70,478.27 486.02,489.47 486.90,492.70 C487.78,495.93 489.22,494.70 490.40,494.40 C491.58,494.10 493.10,491.80 494.00,490.90 C494.90,490.00 494.92,488.70 495.80,489.00 C496.68,489.30 498.57,491.83 499.30,492.70 C500.03,493.57 499.42,494.82 500.20,494.20 C500.98,493.58 502.93,487.28 504.00,489.00 C505.07,490.72 505.52,499.55 506.60,504.50 C507.68,509.45 509.43,516.98 510.50,518.70 C511.57,520.42 511.92,514.80 513.00,514.80 C514.08,514.80 515.70,518.92 517.00,518.70 C518.30,518.48 519.52,515.43 520.80,513.50 C522.08,511.57 523.83,508.38 524.70,507.10 C525.57,505.82 525.37,505.37 526.00,505.80 C526.63,506.23 527.43,507.77 528.50,509.70 C529.57,511.63 531.10,513.97 532.40,517.40 C533.70,520.83 535.00,526.87 536.30,530.30 C537.60,533.73 539.13,536.48 540.20,538.00 C541.27,539.52 541.85,539.60 542.70,539.40 C543.55,539.20 544.43,537.03 545.30,536.80 C546.17,536.57 546.62,538.65 547.90,538.00 C549.18,537.35 551.48,535.47 553.00,532.90 C554.52,530.33 555.50,525.42 557.00,522.60 C558.50,519.78 561.17,517.10 562.00,516.00" fill="none" stroke="#111" stroke-width="1.6" stroke-linejoin="round"/>
<path d="M168.0,380.7 V572.8 H562.5" fill="none" stroke="#222" stroke-width="1.5"/>
<text x="163.7" y="385.40" font-family="'Liberation Sans', sans-serif" font-size="10.6" font-weight="bold" fill="#111" stroke="#111" stroke-width="0.25" text-anchor="end">0.32</text>
<text x="163.7" y="481.00" font-family="'Liberation Sans', sans-serif" font-size="10.6" font-weight="bold" fill="#111" stroke="#111" stroke-width="0.25" text-anchor="end">0.16</text>
<text x="163.7" y="576.60" font-family="'Liberation Sans', sans-serif" font-size="10.6" font-weight="bold" fill="#111" stroke="#111" stroke-width="0.25" text-anchor="end">0.00</text>
<text x="207.50" y="587.9" font-family="'Liberation Sans', sans-serif" font-size="10.6" font-weight="bold" fill="#111" stroke="#111" stroke-width="0.25" text-anchor="middle">3500</text>
<text x="273.10" y="587.9" font-family="'Liberation Sans', sans-serif" font-size="10.6" font-weight="bold" fill="#111" stroke="#111" stroke-width="0.25" text-anchor="middle">3000</text>
<text x="338.70" y="587.9" font-family="'Liberation Sans', sans-serif" font-size="10.6" font-weight="bold" fill="#111" stroke="#111" stroke-width="0.25" text-anchor="middle">2500</text>
<text x="404.30" y="587.9" font-family="'Liberation Sans', sans-serif" font-size="10.6" font-weight="bold" fill="#111" stroke="#111" stroke-width="0.25" text-anchor="middle">2000</text>
<text x="469.90" y="587.9" font-family="'Liberation Sans', sans-serif" font-size="10.6" font-weight="bold" fill="#111" stroke="#111" stroke-width="0.25" text-anchor="middle">1500</text>
<text x="535.50" y="587.9" font-family="'Liberation Sans', sans-serif" font-size="10.6" font-weight="bold" fill="#111" stroke="#111" stroke-width="0.25" text-anchor="middle">1000</text>
<path d="M168.0,381.60h-4 M168.0,477.20h-4 M168.0,572.80h-4 M207.50,572.8v4 M273.10,572.8v4 M338.70,572.8v4 M404.30,572.8v4 M469.90,572.8v4 M535.50,572.8v4" stroke="#222" stroke-width="1.3" fill="none"/>
<text x="308.3" y="605.5" font-family="'Liberation Sans', sans-serif" font-size="13" font-weight="bold" fill="#111" stroke="#111" stroke-width="0.25" textLength="113.5" lengthAdjust="spacingAndGlyphs">Wavenumber (cm<tspan font-size="8" dy="-5">-1</tspan><tspan dy="5">)</tspan></text>
<text transform="translate(131.5,475.5) rotate(-90)" font-family="'Liberation Sans', sans-serif" font-size="15" font-weight="bold" fill="#111" stroke="#111" stroke-width="0.25" text-anchor="middle" textLength="116" lengthAdjust="spacingAndGlyphs">Absorbance (au)</text>
<rect x="174.2" y="374.9" width="72.3" height="14.7" fill="#7dd3a0"/>
<text x="210.3" y="386.2" font-family="'Liberation Sans', sans-serif" font-size="9.2" font-weight="bold" fill="#222" text-anchor="middle">Protein</text>
<rect x="275.3" y="374.9" width="71.7" height="14.7" fill="#8fb3e0"/>
<text x="311.1" y="386.2" font-family="'Liberation Sans', sans-serif" font-size="9.2" font-weight="bold" fill="#222" text-anchor="middle">Lipid</text>
<rect x="373" y="374.9" width="71.7" height="14.7" fill="#f47c7c"/>
<text x="408.9" y="386.2" font-family="'Liberation Sans', sans-serif" font-size="9.2" font-weight="bold" fill="#222" text-anchor="middle">Phosphate</text>
<rect x="477.9" y="374.9" width="72.1" height="14.7" fill="#f9d77c"/>
<text x="514.0" y="386.2" font-family="'Liberation Sans', sans-serif" font-size="9.2" font-weight="bold" fill="#222" text-anchor="middle">Carbohydrate</text>
<text x="178.3" y="404.5" font-family="'Liberation Sans', sans-serif" font-size="9" font-weight="bold" fill="#222" stroke="#222" stroke-width="0.15"><tspan font-style="italic">e.g.</tspan> Globulins</text>
<text x="237.4" y="415.5" font-family="'Liberation Sans', sans-serif" font-size="9" font-weight="bold" fill="#222" stroke="#222" stroke-width="0.15" text-anchor="end">Albumins</text>
<text x="275.3" y="404.5" font-family="'Liberation Sans', sans-serif" font-size="9" font-weight="bold" fill="#222" stroke="#222" stroke-width="0.15"><tspan font-style="italic">e.g.</tspan> Fatty Acids</text>
<text x="343" y="415.5" font-family="'Liberation Sans', sans-serif" font-size="9" font-weight="bold" fill="#222" stroke="#222" stroke-width="0.15" text-anchor="end">Cholesterol</text>
<text x="368.4" y="404.5" font-family="'Liberation Sans', sans-serif" font-size="9" font-weight="bold" fill="#222" stroke="#222" stroke-width="0.15">e.g. DNA</text>
<text x="447.8" y="415.5" font-family="'Liberation Sans', sans-serif" font-size="9" font-weight="bold" fill="#222" stroke="#222" stroke-width="0.15" text-anchor="end">Phospholipids</text>
<text x="479" y="404.5" font-family="'Liberation Sans', sans-serif" font-size="9" font-weight="bold" fill="#222" stroke="#222" stroke-width="0.15"><tspan font-style="italic">e.g.</tspan> Glycogen</text>
<text x="532.8" y="415.5" font-family="'Liberation Sans', sans-serif" font-size="9" font-weight="bold" fill="#222" stroke="#222" stroke-width="0.15" text-anchor="end">Glucose</text>
<rect x="453.3" y="554.5" width="108.5" height="17.5" fill="#ffffff" fill-opacity="0.7"/>
<text x="455.6" y="568.6" font-family="'Liberation Sans', sans-serif" font-size="16.2" font-weight="bold" fill="#111" stroke="#111" stroke-width="0.35" textLength="103.8" lengthAdjust="spacingAndGlyphs">Biomolecules</text>
<g>
<ellipse cx="209.8" cy="451.5" rx="8.4" ry="9.6" fill="#c9c9c9"/>
<ellipse cx="209.6" cy="451" rx="2.6" ry="3" fill="#eeeeee"/>
<path d="M204,437 L210,443 L216,437" stroke="#d8d8de" stroke-width="2.5" fill="none"/>
<ellipse cx="204.5" cy="434.5" rx="4" ry="2.8" fill="#d4d4d4"/>
<ellipse cx="207.3" cy="433.6" rx="1.6" ry="1.9" fill="#555"/>
<ellipse cx="197" cy="433.5" rx="7" ry="5" fill="#a6d8a0" transform="rotate(28 197 433.5)"/>
<ellipse cx="195" cy="430.3" rx="4.6" ry="3.3" fill="#505050" transform="rotate(20 195 430.3)"/>
<ellipse cx="199.8" cy="437.3" rx="2.3" ry="2.3" fill="#3c8f3c"/>
<ellipse cx="220.5" cy="433.5" rx="9" ry="5.2" fill="#b4deaa" transform="rotate(-22 220.5 433.5)"/>
<ellipse cx="218.5" cy="430" rx="4" ry="2.6" fill="#4a4a4a" transform="rotate(-15 218.5 430)"/>
<ellipse cx="225.8" cy="433" rx="4" ry="5" fill="#3f9a3f"/>
</g>
<path d="M312.7,426 L310.37,426.93 L312.25,430.17 L308.51,430.33 L310.39,433.57 L306.66,433.73 L308.54,436.97 L304.80,437.13 L306.68,440.37 L302.95,440.53 L304.83,443.77 L301.09,443.93 L302.97,447.17 L299.23,447.33 L301.12,450.57 L297.38,450.73 L299.26,453.97 L295.52,454.13 L297.40,457.37 M317,426 L314.98,427.40 L317.59,430.03 L314.02,431.02 L316.64,433.64 L313.07,434.64 L315.68,437.26 L312.11,438.26 L314.73,440.88 L311.16,441.87 L313.77,444.50 L310.20,445.49 L312.82,448.12 L309.25,449.11 L311.87,451.74 L308.29,452.73 L310.91,455.35 L307.34,456.35 L309.96,458.97 L306.38,459.96 L309.00,462.59 L305.43,463.58 L308.05,466.21 M323.4,427.6 L321.43,428.88 L324.12,431.33 L320.59,432.22 L323.28,434.66 L319.76,435.55 L322.44,438.00 L318.92,438.89 L321.61,441.33 L318.08,442.22 L320.77,444.67 L317.25,445.56 L319.93,448.01 L316.41,448.90 L319.10,451.34 L315.58,452.23 L318.26,454.68 L314.74,455.57 L317.42,458.02 L313.90,458.91 L316.59,461.35 L313.07,462.24 L315.75,464.69" fill="none" stroke="#8ab8e8" stroke-width="1.3"/>
<path d="M308,424.5 l3,2 l3,-2 l3,2 l3,-2" fill="none" stroke="#bbb" stroke-width="0.8"/>
<path d="M380.5,437.9 H397.9 M388.3,431 V445.2" stroke="#c8607a" stroke-width="1" stroke-dasharray="2,1"/>
<polygon points="403.30,438.50 409.96,443.34 407.41,451.16 399.19,451.16 396.64,443.34" fill="#f26a78"/>
<polygon points="420.50,438.00 418.00,442.33 413.00,442.33 410.50,438.00 413.00,433.67 418.00,433.67" fill="#aaaaaa"/>
<polygon points="431.50,435.00 428.25,440.63 421.75,440.63 418.50,435.00 421.75,429.37 428.25,429.37" fill="#aaaaaa"/>
<path d="M499.6,430.1 L511.4,421.7 M510.1,419.6 L512,423 M511.4,421.7 L528.2,441.9 M503.4,428.4 L505.5,432.6 M523.5,434.3 L529.4,427.2 M501.7,441.9 L543.7,442.3 M508,442.7 L505.1,451.9 M532,443.5 L523.5,458.7 M517.7,450.3 L527.7,452" stroke="#f0d050" stroke-width="1.8" stroke-linecap="round" fill="none"/>
</svg>
</body></html>
